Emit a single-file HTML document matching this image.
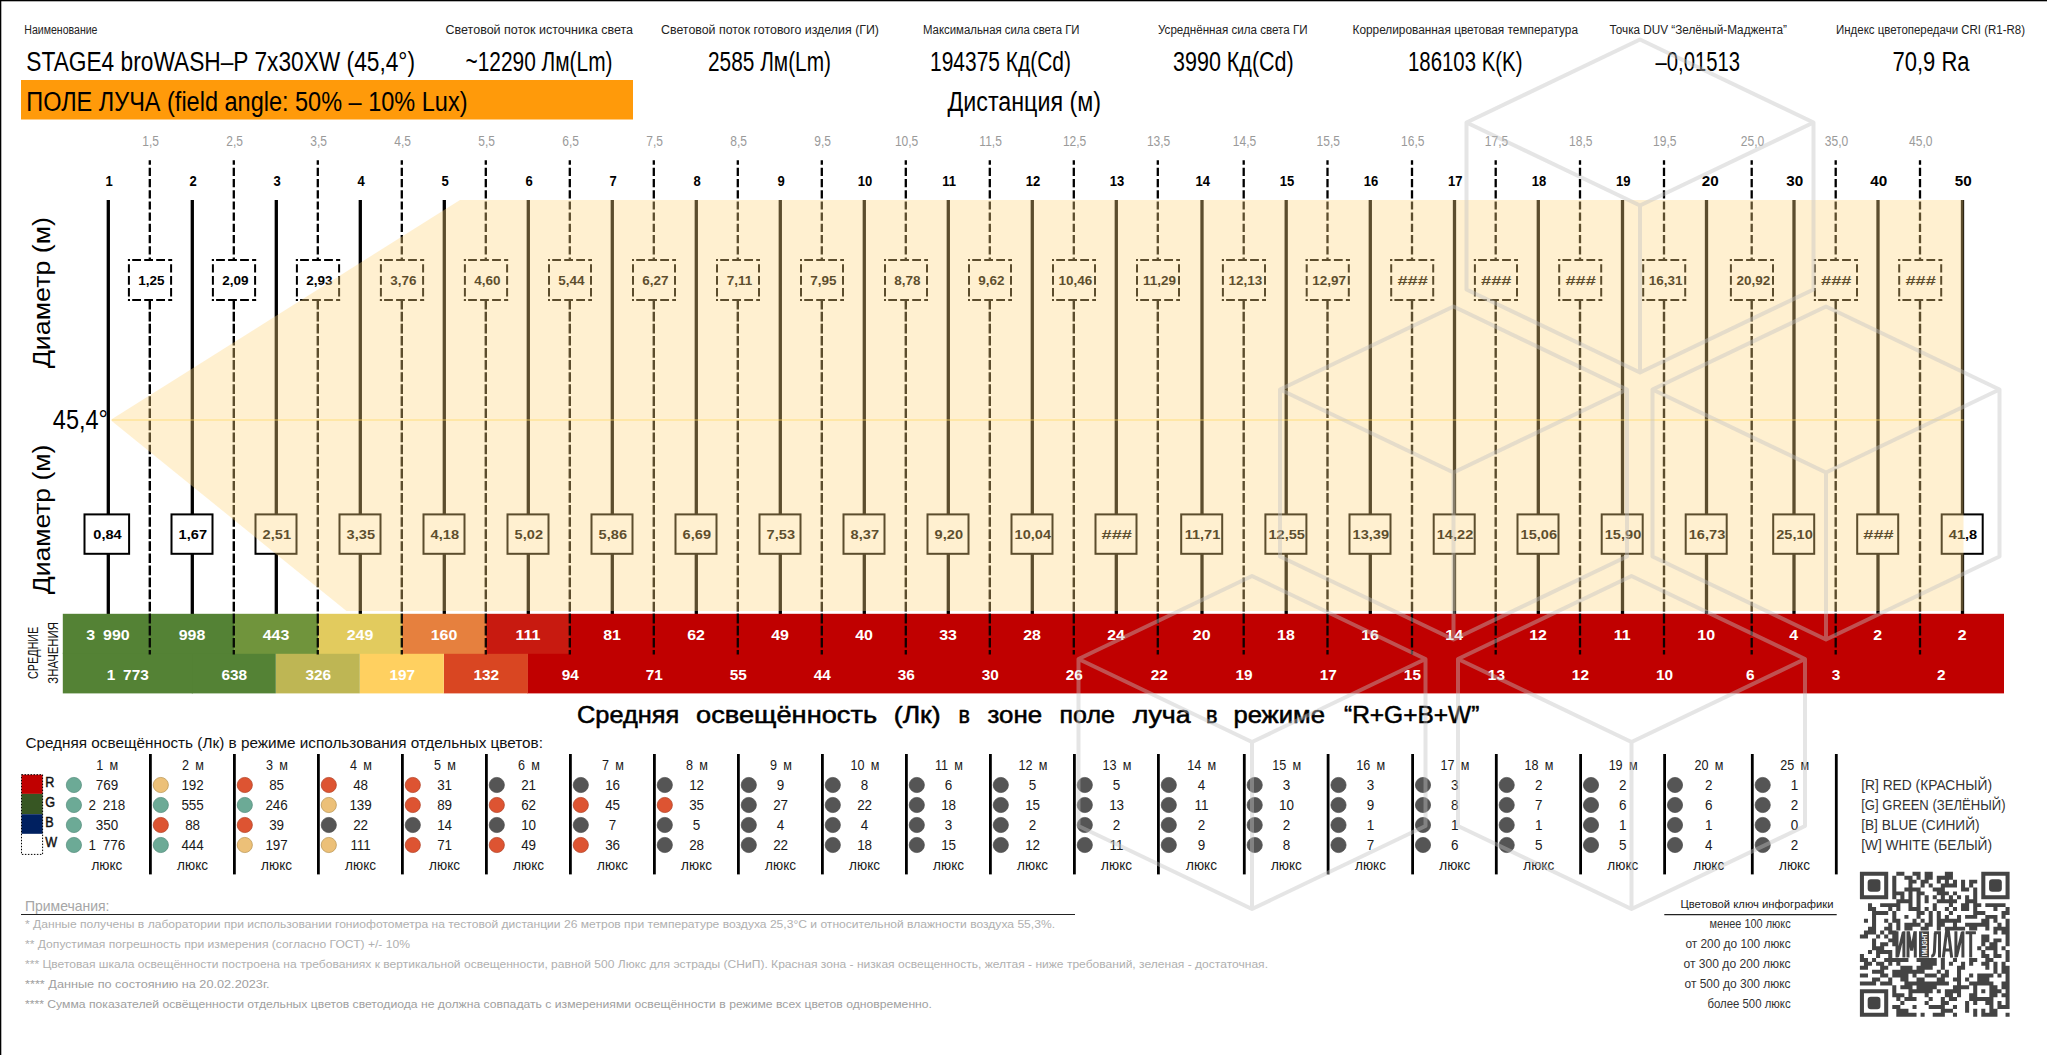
<!DOCTYPE html>
<html lang="ru"><head><meta charset="utf-8"><title>STAGE4 broWASH-P 7x30XW</title>
<style>
html,body{margin:0;padding:0;background:#fff;}
body{width:2047px;height:1055px;overflow:hidden;}
svg{display:block;font-family:"Liberation Sans", sans-serif;}
text{white-space:pre;}
</style></head><body>
<svg width="2047" height="1055" viewBox="0 0 2047 1055">
<rect x="0" y="0" width="2047" height="1055" fill="#fff"/>
<text x="24.3" y="34.2" font-size="12" text-anchor="start" fill="#222" textLength="73.2" lengthAdjust="spacingAndGlyphs" >Наименование</text>
<text x="26.3" y="70.7" font-size="27" text-anchor="start" fill="#000" textLength="388.7" lengthAdjust="spacingAndGlyphs" >STAGE4 broWASH–P 7x30XW (45,4°)</text>
<text x="445.5" y="34.2" font-size="12" text-anchor="start" fill="#222" textLength="187.5" lengthAdjust="spacingAndGlyphs" >Световой поток источника света</text>
<text x="465.5" y="70.7" font-size="27" text-anchor="start" fill="#000" textLength="147.0" lengthAdjust="spacingAndGlyphs" >~12290 Лм(Lm)</text>
<text x="661.0" y="34.2" font-size="12" text-anchor="start" fill="#222" textLength="218.0" lengthAdjust="spacingAndGlyphs" >Световой поток готового изделия (ГИ)</text>
<text x="708.0" y="70.7" font-size="27" text-anchor="start" fill="#000" textLength="123.0" lengthAdjust="spacingAndGlyphs" >2585 Лм(Lm)</text>
<text x="923.0" y="34.2" font-size="12" text-anchor="start" fill="#222" textLength="156.5" lengthAdjust="spacingAndGlyphs" >Максимальная сила света ГИ</text>
<text x="930.0" y="70.7" font-size="27" text-anchor="start" fill="#000" textLength="141.0" lengthAdjust="spacingAndGlyphs" >194375 Кд(Cd)</text>
<text x="1158.0" y="34.2" font-size="12" text-anchor="start" fill="#222" textLength="149.5" lengthAdjust="spacingAndGlyphs" >Усреднённая сила света ГИ</text>
<text x="1173.0" y="70.7" font-size="27" text-anchor="start" fill="#000" textLength="120.7" lengthAdjust="spacingAndGlyphs" >3990 Кд(Cd)</text>
<text x="1352.5" y="34.2" font-size="12" text-anchor="start" fill="#222" textLength="225.5" lengthAdjust="spacingAndGlyphs" >Коррелированная цветовая температура</text>
<text x="1408.0" y="70.7" font-size="27" text-anchor="start" fill="#000" textLength="114.5" lengthAdjust="spacingAndGlyphs" >186103 K(K)</text>
<text x="1609.5" y="34.2" font-size="12" text-anchor="start" fill="#222" textLength="177.5" lengthAdjust="spacingAndGlyphs" >Точка DUV “Зелёный-Маджента”</text>
<text x="1655.5" y="70.7" font-size="27" text-anchor="start" fill="#000" textLength="84.5" lengthAdjust="spacingAndGlyphs" >–0,01513</text>
<text x="1836.0" y="34.2" font-size="12" text-anchor="start" fill="#222" textLength="189.0" lengthAdjust="spacingAndGlyphs" >Индекс цветопередачи CRI (R1-R8)</text>
<text x="1892.5" y="70.7" font-size="27" text-anchor="start" fill="#000" textLength="77.0" lengthAdjust="spacingAndGlyphs" >70,9 Ra</text>
<rect x="21" y="80" width="612" height="39.5" fill="#FF9A0A"/>
<text x="26.3" y="110.8" font-size="27" text-anchor="start" fill="#000" textLength="441.2" lengthAdjust="spacingAndGlyphs" >ПОЛЕ ЛУЧА (field angle: 50% – 10% Lux)</text>
<text x="947.5" y="110.8" font-size="27" text-anchor="start" fill="#000" textLength="153.5" lengthAdjust="spacingAndGlyphs" >Дистанция (м)</text>
<text transform="translate(150.6,145.7) scale(0.86,1)" font-size="14" text-anchor="middle" fill="#9a9a9a" >1,5</text>
<text transform="translate(234.6,145.7) scale(0.86,1)" font-size="14" text-anchor="middle" fill="#9a9a9a" >2,5</text>
<text transform="translate(318.6,145.7) scale(0.86,1)" font-size="14" text-anchor="middle" fill="#9a9a9a" >3,5</text>
<text transform="translate(402.6,145.7) scale(0.86,1)" font-size="14" text-anchor="middle" fill="#9a9a9a" >4,5</text>
<text transform="translate(486.6,145.7) scale(0.86,1)" font-size="14" text-anchor="middle" fill="#9a9a9a" >5,5</text>
<text transform="translate(570.6,145.7) scale(0.86,1)" font-size="14" text-anchor="middle" fill="#9a9a9a" >6,5</text>
<text transform="translate(654.6,145.7) scale(0.86,1)" font-size="14" text-anchor="middle" fill="#9a9a9a" >7,5</text>
<text transform="translate(738.6,145.7) scale(0.86,1)" font-size="14" text-anchor="middle" fill="#9a9a9a" >8,5</text>
<text transform="translate(822.6,145.7) scale(0.86,1)" font-size="14" text-anchor="middle" fill="#9a9a9a" >9,5</text>
<text transform="translate(906.6,145.7) scale(0.86,1)" font-size="14" text-anchor="middle" fill="#9a9a9a" >10,5</text>
<text transform="translate(990.6,145.7) scale(0.86,1)" font-size="14" text-anchor="middle" fill="#9a9a9a" >11,5</text>
<text transform="translate(1074.6,145.7) scale(0.86,1)" font-size="14" text-anchor="middle" fill="#9a9a9a" >12,5</text>
<text transform="translate(1158.6,145.7) scale(0.86,1)" font-size="14" text-anchor="middle" fill="#9a9a9a" >13,5</text>
<text transform="translate(1244.5,145.7) scale(0.86,1)" font-size="14" text-anchor="middle" fill="#9a9a9a" >14,5</text>
<text transform="translate(1328.3,145.7) scale(0.86,1)" font-size="14" text-anchor="middle" fill="#9a9a9a" >15,5</text>
<text transform="translate(1412.8,145.7) scale(0.86,1)" font-size="14" text-anchor="middle" fill="#9a9a9a" >16,5</text>
<text transform="translate(1496.5,145.7) scale(0.86,1)" font-size="14" text-anchor="middle" fill="#9a9a9a" >17,5</text>
<text transform="translate(1580.8,145.7) scale(0.86,1)" font-size="14" text-anchor="middle" fill="#9a9a9a" >18,5</text>
<text transform="translate(1664.8,145.7) scale(0.86,1)" font-size="14" text-anchor="middle" fill="#9a9a9a" >19,5</text>
<text transform="translate(1752.5,145.7) scale(0.86,1)" font-size="14" text-anchor="middle" fill="#9a9a9a" >25,0</text>
<text transform="translate(1836.5,145.7) scale(0.86,1)" font-size="14" text-anchor="middle" fill="#9a9a9a" >35,0</text>
<text transform="translate(1920.8,145.7) scale(0.86,1)" font-size="14" text-anchor="middle" fill="#9a9a9a" >45,0</text>
<text transform="translate(109.1,186.2) scale(0.9,1)" font-size="14.5" text-anchor="middle" fill="#000" font-weight="bold" >1</text>
<text transform="translate(193.1,186.2) scale(0.9,1)" font-size="14.5" text-anchor="middle" fill="#000" font-weight="bold" >2</text>
<text transform="translate(277.1,186.2) scale(0.9,1)" font-size="14.5" text-anchor="middle" fill="#000" font-weight="bold" >3</text>
<text transform="translate(361.1,186.2) scale(0.9,1)" font-size="14.5" text-anchor="middle" fill="#000" font-weight="bold" >4</text>
<text transform="translate(445.1,186.2) scale(0.9,1)" font-size="14.5" text-anchor="middle" fill="#000" font-weight="bold" >5</text>
<text transform="translate(529.1,186.2) scale(0.9,1)" font-size="14.5" text-anchor="middle" fill="#000" font-weight="bold" >6</text>
<text transform="translate(613.1,186.2) scale(0.9,1)" font-size="14.5" text-anchor="middle" fill="#000" font-weight="bold" >7</text>
<text transform="translate(697.1,186.2) scale(0.9,1)" font-size="14.5" text-anchor="middle" fill="#000" font-weight="bold" >8</text>
<text transform="translate(781.1,186.2) scale(0.9,1)" font-size="14.5" text-anchor="middle" fill="#000" font-weight="bold" >9</text>
<text transform="translate(865.1,186.2) scale(0.9,1)" font-size="14.5" text-anchor="middle" fill="#000" font-weight="bold" >10</text>
<text transform="translate(949.1,186.2) scale(0.9,1)" font-size="14.5" text-anchor="middle" fill="#000" font-weight="bold" >11</text>
<text transform="translate(1033.1,186.2) scale(0.9,1)" font-size="14.5" text-anchor="middle" fill="#000" font-weight="bold" >12</text>
<text transform="translate(1117.1,186.2) scale(0.9,1)" font-size="14.5" text-anchor="middle" fill="#000" font-weight="bold" >13</text>
<text transform="translate(1202.8,186.2) scale(0.9,1)" font-size="14.5" text-anchor="middle" fill="#000" font-weight="bold" >14</text>
<text transform="translate(1287.0,186.2) scale(0.9,1)" font-size="14.5" text-anchor="middle" fill="#000" font-weight="bold" >15</text>
<text transform="translate(1371.1,186.2) scale(0.9,1)" font-size="14.5" text-anchor="middle" fill="#000" font-weight="bold" >16</text>
<text transform="translate(1455.3,186.2) scale(0.9,1)" font-size="14.5" text-anchor="middle" fill="#000" font-weight="bold" >17</text>
<text transform="translate(1539.1,186.2) scale(0.9,1)" font-size="14.5" text-anchor="middle" fill="#000" font-weight="bold" >18</text>
<text transform="translate(1623.3,186.2) scale(0.9,1)" font-size="14.5" text-anchor="middle" fill="#000" font-weight="bold" >19</text>
<text transform="translate(1710.3,186.2) scale(1.05,1)" font-size="14.5" text-anchor="middle" fill="#000" font-weight="bold" >20</text>
<text transform="translate(1794.8,186.2) scale(1.05,1)" font-size="14.5" text-anchor="middle" fill="#000" font-weight="bold" >30</text>
<text transform="translate(1878.8,186.2) scale(1.05,1)" font-size="14.5" text-anchor="middle" fill="#000" font-weight="bold" >40</text>
<text transform="translate(1963.3,186.2) scale(1.05,1)" font-size="14.5" text-anchor="middle" fill="#000" font-weight="bold" >50</text>
<line x1="149.8" y1="160.2" x2="149.8" y2="259.5" stroke="#000" stroke-width="2.3" stroke-dasharray="8.2 3" stroke-dashoffset="3.6"/>
<line x1="149.8" y1="300.6" x2="149.8" y2="654.6" stroke="#000" stroke-width="2.4" stroke-dasharray="9.68 2.4" stroke-dashoffset="0.9"/>
<line x1="233.8" y1="160.2" x2="233.8" y2="259.5" stroke="#000" stroke-width="2.3" stroke-dasharray="8.2 3" stroke-dashoffset="3.6"/>
<line x1="233.8" y1="300.6" x2="233.8" y2="654.6" stroke="#000" stroke-width="2.4" stroke-dasharray="9.68 2.4" stroke-dashoffset="0.9"/>
<line x1="317.8" y1="160.2" x2="317.8" y2="259.5" stroke="#000" stroke-width="2.3" stroke-dasharray="8.2 3" stroke-dashoffset="3.6"/>
<line x1="317.8" y1="300.6" x2="317.8" y2="654.6" stroke="#000" stroke-width="2.4" stroke-dasharray="9.68 2.4" stroke-dashoffset="0.9"/>
<line x1="401.8" y1="160.2" x2="401.8" y2="259.5" stroke="#000" stroke-width="2.3" stroke-dasharray="8.2 3" stroke-dashoffset="3.6"/>
<line x1="401.8" y1="300.6" x2="401.8" y2="654.6" stroke="#000" stroke-width="2.4" stroke-dasharray="9.68 2.4" stroke-dashoffset="0.9"/>
<line x1="485.8" y1="160.2" x2="485.8" y2="259.5" stroke="#000" stroke-width="2.3" stroke-dasharray="8.2 3" stroke-dashoffset="3.6"/>
<line x1="485.8" y1="300.6" x2="485.8" y2="654.6" stroke="#000" stroke-width="2.4" stroke-dasharray="9.68 2.4" stroke-dashoffset="0.9"/>
<line x1="569.8" y1="160.2" x2="569.8" y2="259.5" stroke="#000" stroke-width="2.3" stroke-dasharray="8.2 3" stroke-dashoffset="3.6"/>
<line x1="569.8" y1="300.6" x2="569.8" y2="654.6" stroke="#000" stroke-width="2.4" stroke-dasharray="9.68 2.4" stroke-dashoffset="0.9"/>
<line x1="653.8" y1="160.2" x2="653.8" y2="259.5" stroke="#000" stroke-width="2.3" stroke-dasharray="8.2 3" stroke-dashoffset="3.6"/>
<line x1="653.8" y1="300.6" x2="653.8" y2="654.6" stroke="#000" stroke-width="2.4" stroke-dasharray="9.68 2.4" stroke-dashoffset="0.9"/>
<line x1="737.8" y1="160.2" x2="737.8" y2="259.5" stroke="#000" stroke-width="2.3" stroke-dasharray="8.2 3" stroke-dashoffset="3.6"/>
<line x1="737.8" y1="300.6" x2="737.8" y2="654.6" stroke="#000" stroke-width="2.4" stroke-dasharray="9.68 2.4" stroke-dashoffset="0.9"/>
<line x1="821.8" y1="160.2" x2="821.8" y2="259.5" stroke="#000" stroke-width="2.3" stroke-dasharray="8.2 3" stroke-dashoffset="3.6"/>
<line x1="821.8" y1="300.6" x2="821.8" y2="654.6" stroke="#000" stroke-width="2.4" stroke-dasharray="9.68 2.4" stroke-dashoffset="0.9"/>
<line x1="905.8" y1="160.2" x2="905.8" y2="259.5" stroke="#000" stroke-width="2.3" stroke-dasharray="8.2 3" stroke-dashoffset="3.6"/>
<line x1="905.8" y1="300.6" x2="905.8" y2="654.6" stroke="#000" stroke-width="2.4" stroke-dasharray="9.68 2.4" stroke-dashoffset="0.9"/>
<line x1="989.8" y1="160.2" x2="989.8" y2="259.5" stroke="#000" stroke-width="2.3" stroke-dasharray="8.2 3" stroke-dashoffset="3.6"/>
<line x1="989.8" y1="300.6" x2="989.8" y2="654.6" stroke="#000" stroke-width="2.4" stroke-dasharray="9.68 2.4" stroke-dashoffset="0.9"/>
<line x1="1073.8" y1="160.2" x2="1073.8" y2="259.5" stroke="#000" stroke-width="2.3" stroke-dasharray="8.2 3" stroke-dashoffset="3.6"/>
<line x1="1073.8" y1="300.6" x2="1073.8" y2="654.6" stroke="#000" stroke-width="2.4" stroke-dasharray="9.68 2.4" stroke-dashoffset="0.9"/>
<line x1="1157.8" y1="160.2" x2="1157.8" y2="259.5" stroke="#000" stroke-width="2.3" stroke-dasharray="8.2 3" stroke-dashoffset="3.6"/>
<line x1="1157.8" y1="300.6" x2="1157.8" y2="654.6" stroke="#000" stroke-width="2.4" stroke-dasharray="9.68 2.4" stroke-dashoffset="0.9"/>
<line x1="1243.7" y1="160.2" x2="1243.7" y2="259.5" stroke="#000" stroke-width="2.3" stroke-dasharray="8.2 3" stroke-dashoffset="3.6"/>
<line x1="1243.7" y1="300.6" x2="1243.7" y2="654.6" stroke="#000" stroke-width="2.4" stroke-dasharray="9.68 2.4" stroke-dashoffset="0.9"/>
<line x1="1327.5" y1="160.2" x2="1327.5" y2="259.5" stroke="#000" stroke-width="2.3" stroke-dasharray="8.2 3" stroke-dashoffset="3.6"/>
<line x1="1327.5" y1="300.6" x2="1327.5" y2="654.6" stroke="#000" stroke-width="2.4" stroke-dasharray="9.68 2.4" stroke-dashoffset="0.9"/>
<line x1="1412.0" y1="160.2" x2="1412.0" y2="259.5" stroke="#000" stroke-width="2.3" stroke-dasharray="8.2 3" stroke-dashoffset="3.6"/>
<line x1="1412.0" y1="300.6" x2="1412.0" y2="654.6" stroke="#000" stroke-width="2.4" stroke-dasharray="9.68 2.4" stroke-dashoffset="0.9"/>
<line x1="1495.7" y1="160.2" x2="1495.7" y2="259.5" stroke="#000" stroke-width="2.3" stroke-dasharray="8.2 3" stroke-dashoffset="3.6"/>
<line x1="1495.7" y1="300.6" x2="1495.7" y2="654.6" stroke="#000" stroke-width="2.4" stroke-dasharray="9.68 2.4" stroke-dashoffset="0.9"/>
<line x1="1580.0" y1="160.2" x2="1580.0" y2="259.5" stroke="#000" stroke-width="2.3" stroke-dasharray="8.2 3" stroke-dashoffset="3.6"/>
<line x1="1580.0" y1="300.6" x2="1580.0" y2="654.6" stroke="#000" stroke-width="2.4" stroke-dasharray="9.68 2.4" stroke-dashoffset="0.9"/>
<line x1="1664.0" y1="160.2" x2="1664.0" y2="259.5" stroke="#000" stroke-width="2.3" stroke-dasharray="8.2 3" stroke-dashoffset="3.6"/>
<line x1="1664.0" y1="300.6" x2="1664.0" y2="654.6" stroke="#000" stroke-width="2.4" stroke-dasharray="9.68 2.4" stroke-dashoffset="0.9"/>
<line x1="1751.7" y1="160.2" x2="1751.7" y2="259.5" stroke="#000" stroke-width="2.3" stroke-dasharray="8.2 3" stroke-dashoffset="3.6"/>
<line x1="1751.7" y1="300.6" x2="1751.7" y2="654.6" stroke="#000" stroke-width="2.4" stroke-dasharray="9.68 2.4" stroke-dashoffset="0.9"/>
<line x1="1835.7" y1="160.2" x2="1835.7" y2="259.5" stroke="#000" stroke-width="2.3" stroke-dasharray="8.2 3" stroke-dashoffset="3.6"/>
<line x1="1835.7" y1="300.6" x2="1835.7" y2="654.6" stroke="#000" stroke-width="2.4" stroke-dasharray="9.68 2.4" stroke-dashoffset="0.9"/>
<line x1="1920.0" y1="160.2" x2="1920.0" y2="259.5" stroke="#000" stroke-width="2.3" stroke-dasharray="8.2 3" stroke-dashoffset="3.6"/>
<line x1="1920.0" y1="300.6" x2="1920.0" y2="654.6" stroke="#000" stroke-width="2.4" stroke-dasharray="9.68 2.4" stroke-dashoffset="0.9"/>
<line x1="108.3" y1="200" x2="108.3" y2="614" stroke="#000" stroke-width="3.3"/>
<line x1="192.3" y1="200" x2="192.3" y2="614" stroke="#000" stroke-width="3.3"/>
<line x1="276.3" y1="200" x2="276.3" y2="614" stroke="#000" stroke-width="3.3"/>
<line x1="360.3" y1="200" x2="360.3" y2="614" stroke="#000" stroke-width="3.3"/>
<line x1="444.3" y1="200" x2="444.3" y2="614" stroke="#000" stroke-width="3.3"/>
<line x1="528.3" y1="200" x2="528.3" y2="614" stroke="#000" stroke-width="3.3"/>
<line x1="612.3" y1="200" x2="612.3" y2="614" stroke="#000" stroke-width="3.3"/>
<line x1="696.3" y1="200" x2="696.3" y2="614" stroke="#000" stroke-width="3.3"/>
<line x1="780.3" y1="200" x2="780.3" y2="614" stroke="#000" stroke-width="3.3"/>
<line x1="864.3" y1="200" x2="864.3" y2="614" stroke="#000" stroke-width="3.3"/>
<line x1="948.3" y1="200" x2="948.3" y2="614" stroke="#000" stroke-width="3.3"/>
<line x1="1032.3" y1="200" x2="1032.3" y2="614" stroke="#000" stroke-width="3.3"/>
<line x1="1116.3" y1="200" x2="1116.3" y2="614" stroke="#000" stroke-width="3.3"/>
<line x1="1202.0" y1="200" x2="1202.0" y2="614" stroke="#000" stroke-width="3.3"/>
<line x1="1286.2" y1="200" x2="1286.2" y2="614" stroke="#000" stroke-width="3.3"/>
<line x1="1370.3" y1="200" x2="1370.3" y2="614" stroke="#000" stroke-width="3.3"/>
<line x1="1454.5" y1="200" x2="1454.5" y2="614" stroke="#000" stroke-width="3.3"/>
<line x1="1538.3" y1="200" x2="1538.3" y2="614" stroke="#000" stroke-width="3.3"/>
<line x1="1622.5" y1="200" x2="1622.5" y2="614" stroke="#000" stroke-width="3.3"/>
<line x1="1706.5" y1="200" x2="1706.5" y2="614" stroke="#000" stroke-width="3.3"/>
<line x1="1794.0" y1="200" x2="1794.0" y2="614" stroke="#000" stroke-width="3.3"/>
<line x1="1878.0" y1="200" x2="1878.0" y2="614" stroke="#000" stroke-width="3.3"/>
<line x1="1962.5" y1="200" x2="1962.5" y2="614" stroke="#000" stroke-width="3.3"/>
<rect x="128.9" y="259.9" width="42.1" height="40.0" fill="#fff"/>
<path d="M128.0,259.9H172.1M128.0,299.9H172.1" stroke="#000" stroke-width="2" stroke-dasharray="2 2.2 8.8 3.2 8.8 3.2 8.8 3.2 4.1 0" fill="none"/>
<path d="M128.9,258.9V300.9M171.1,258.9V300.9" stroke="#000" stroke-width="2" stroke-dasharray="2 3.3 8.3 3.6 8.6 3.3 8.6 3 1.2 0" fill="none"/>
<text transform="translate(151.4,284.8) scale(1.0,1)" font-size="13.5" text-anchor="middle" fill="#000" font-weight="bold" >1,25</text>
<rect x="212.9" y="259.9" width="42.1" height="40.0" fill="#fff"/>
<path d="M211.9,259.9H256.1M211.9,299.9H256.1" stroke="#000" stroke-width="2" stroke-dasharray="2 2.2 8.8 3.2 8.8 3.2 8.8 3.2 4.1 0" fill="none"/>
<path d="M212.9,258.9V300.9M255.1,258.9V300.9" stroke="#000" stroke-width="2" stroke-dasharray="2 3.3 8.3 3.6 8.6 3.3 8.6 3 1.2 0" fill="none"/>
<text transform="translate(235.4,284.8) scale(1.0,1)" font-size="13.5" text-anchor="middle" fill="#000" font-weight="bold" >2,09</text>
<rect x="296.9" y="259.9" width="42.1" height="40.0" fill="#fff"/>
<path d="M295.9,259.9H340.1M295.9,299.9H340.1" stroke="#000" stroke-width="2" stroke-dasharray="2 2.2 8.8 3.2 8.8 3.2 8.8 3.2 4.1 0" fill="none"/>
<path d="M296.9,258.9V300.9M339.1,258.9V300.9" stroke="#000" stroke-width="2" stroke-dasharray="2 3.3 8.3 3.6 8.6 3.3 8.6 3 1.2 0" fill="none"/>
<text transform="translate(319.4,284.8) scale(1.0,1)" font-size="13.5" text-anchor="middle" fill="#000" font-weight="bold" >2,93</text>
<rect x="380.9" y="259.9" width="42.1" height="40.0" fill="#fff"/>
<path d="M379.9,259.9H424.1M379.9,299.9H424.1" stroke="#000" stroke-width="2" stroke-dasharray="2 2.2 8.8 3.2 8.8 3.2 8.8 3.2 4.1 0" fill="none"/>
<path d="M380.9,258.9V300.9M423.1,258.9V300.9" stroke="#000" stroke-width="2" stroke-dasharray="2 3.3 8.3 3.6 8.6 3.3 8.6 3 1.2 0" fill="none"/>
<text transform="translate(403.4,284.8) scale(1.0,1)" font-size="13.5" text-anchor="middle" fill="#000" font-weight="bold" >3,76</text>
<rect x="464.9" y="259.9" width="42.1" height="40.0" fill="#fff"/>
<path d="M463.9,259.9H508.1M463.9,299.9H508.1" stroke="#000" stroke-width="2" stroke-dasharray="2 2.2 8.8 3.2 8.8 3.2 8.8 3.2 4.1 0" fill="none"/>
<path d="M464.9,258.9V300.9M507.1,258.9V300.9" stroke="#000" stroke-width="2" stroke-dasharray="2 3.3 8.3 3.6 8.6 3.3 8.6 3 1.2 0" fill="none"/>
<text transform="translate(487.4,284.8) scale(1.0,1)" font-size="13.5" text-anchor="middle" fill="#000" font-weight="bold" >4,60</text>
<rect x="549.0" y="259.9" width="42.1" height="40.0" fill="#fff"/>
<path d="M548.0,259.9H592.0M548.0,299.9H592.0" stroke="#000" stroke-width="2" stroke-dasharray="2 2.2 8.8 3.2 8.8 3.2 8.8 3.2 4.1 0" fill="none"/>
<path d="M549.0,258.9V300.9M591.0,258.9V300.9" stroke="#000" stroke-width="2" stroke-dasharray="2 3.3 8.3 3.6 8.6 3.3 8.6 3 1.2 0" fill="none"/>
<text transform="translate(571.4,284.8) scale(1.0,1)" font-size="13.5" text-anchor="middle" fill="#000" font-weight="bold" >5,44</text>
<rect x="633.0" y="259.9" width="42.1" height="40.0" fill="#fff"/>
<path d="M632.0,259.9H676.0M632.0,299.9H676.0" stroke="#000" stroke-width="2" stroke-dasharray="2 2.2 8.8 3.2 8.8 3.2 8.8 3.2 4.1 0" fill="none"/>
<path d="M633.0,258.9V300.9M675.0,258.9V300.9" stroke="#000" stroke-width="2" stroke-dasharray="2 3.3 8.3 3.6 8.6 3.3 8.6 3 1.2 0" fill="none"/>
<text transform="translate(655.4,284.8) scale(1.0,1)" font-size="13.5" text-anchor="middle" fill="#000" font-weight="bold" >6,27</text>
<rect x="717.0" y="259.9" width="42.1" height="40.0" fill="#fff"/>
<path d="M716.0,259.9H760.0M716.0,299.9H760.0" stroke="#000" stroke-width="2" stroke-dasharray="2 2.2 8.8 3.2 8.8 3.2 8.8 3.2 4.1 0" fill="none"/>
<path d="M717.0,258.9V300.9M759.0,258.9V300.9" stroke="#000" stroke-width="2" stroke-dasharray="2 3.3 8.3 3.6 8.6 3.3 8.6 3 1.2 0" fill="none"/>
<text transform="translate(739.4,284.8) scale(1.0,1)" font-size="13.5" text-anchor="middle" fill="#000" font-weight="bold" >7,11</text>
<rect x="801.0" y="259.9" width="42.1" height="40.0" fill="#fff"/>
<path d="M800.0,259.9H844.0M800.0,299.9H844.0" stroke="#000" stroke-width="2" stroke-dasharray="2 2.2 8.8 3.2 8.8 3.2 8.8 3.2 4.1 0" fill="none"/>
<path d="M801.0,258.9V300.9M843.0,258.9V300.9" stroke="#000" stroke-width="2" stroke-dasharray="2 3.3 8.3 3.6 8.6 3.3 8.6 3 1.2 0" fill="none"/>
<text transform="translate(823.4,284.8) scale(1.0,1)" font-size="13.5" text-anchor="middle" fill="#000" font-weight="bold" >7,95</text>
<rect x="885.0" y="259.9" width="42.1" height="40.0" fill="#fff"/>
<path d="M884.0,259.9H928.0M884.0,299.9H928.0" stroke="#000" stroke-width="2" stroke-dasharray="2 2.2 8.8 3.2 8.8 3.2 8.8 3.2 4.1 0" fill="none"/>
<path d="M885.0,258.9V300.9M927.0,258.9V300.9" stroke="#000" stroke-width="2" stroke-dasharray="2 3.3 8.3 3.6 8.6 3.3 8.6 3 1.2 0" fill="none"/>
<text transform="translate(907.4,284.8) scale(1.0,1)" font-size="13.5" text-anchor="middle" fill="#000" font-weight="bold" >8,78</text>
<rect x="969.0" y="259.9" width="42.1" height="40.0" fill="#fff"/>
<path d="M968.0,259.9H1012.0M968.0,299.9H1012.0" stroke="#000" stroke-width="2" stroke-dasharray="2 2.2 8.8 3.2 8.8 3.2 8.8 3.2 4.1 0" fill="none"/>
<path d="M969.0,258.9V300.9M1011.0,258.9V300.9" stroke="#000" stroke-width="2" stroke-dasharray="2 3.3 8.3 3.6 8.6 3.3 8.6 3 1.2 0" fill="none"/>
<text transform="translate(991.4,284.8) scale(1.0,1)" font-size="13.5" text-anchor="middle" fill="#000" font-weight="bold" >9,62</text>
<rect x="1053.0" y="259.9" width="42.1" height="40.0" fill="#fff"/>
<path d="M1052.0,259.9H1096.0M1052.0,299.9H1096.0" stroke="#000" stroke-width="2" stroke-dasharray="2 2.2 8.8 3.2 8.8 3.2 8.8 3.2 4.1 0" fill="none"/>
<path d="M1053.0,258.9V300.9M1095.0,258.9V300.9" stroke="#000" stroke-width="2" stroke-dasharray="2 3.3 8.3 3.6 8.6 3.3 8.6 3 1.2 0" fill="none"/>
<text transform="translate(1075.4,284.8) scale(1.0,1)" font-size="13.5" text-anchor="middle" fill="#000" font-weight="bold" >10,46</text>
<rect x="1137.0" y="259.9" width="42.1" height="40.0" fill="#fff"/>
<path d="M1136.0,259.9H1180.0M1136.0,299.9H1180.0" stroke="#000" stroke-width="2" stroke-dasharray="2 2.2 8.8 3.2 8.8 3.2 8.8 3.2 4.1 0" fill="none"/>
<path d="M1137.0,258.9V300.9M1179.0,258.9V300.9" stroke="#000" stroke-width="2" stroke-dasharray="2 3.3 8.3 3.6 8.6 3.3 8.6 3 1.2 0" fill="none"/>
<text transform="translate(1159.4,284.8) scale(1.0,1)" font-size="13.5" text-anchor="middle" fill="#000" font-weight="bold" >11,29</text>
<rect x="1222.9" y="259.9" width="42.1" height="40.0" fill="#fff"/>
<path d="M1221.9,259.9H1266.0M1221.9,299.9H1266.0" stroke="#000" stroke-width="2" stroke-dasharray="2 2.2 8.8 3.2 8.8 3.2 8.8 3.2 4.1 0" fill="none"/>
<path d="M1222.9,258.9V300.9M1265.0,258.9V300.9" stroke="#000" stroke-width="2" stroke-dasharray="2 3.3 8.3 3.6 8.6 3.3 8.6 3 1.2 0" fill="none"/>
<text transform="translate(1245.3,284.8) scale(1.0,1)" font-size="13.5" text-anchor="middle" fill="#000" font-weight="bold" >12,13</text>
<rect x="1306.7" y="259.9" width="42.1" height="40.0" fill="#fff"/>
<path d="M1305.7,259.9H1349.8M1305.7,299.9H1349.8" stroke="#000" stroke-width="2" stroke-dasharray="2 2.2 8.8 3.2 8.8 3.2 8.8 3.2 4.1 0" fill="none"/>
<path d="M1306.7,258.9V300.9M1348.8,258.9V300.9" stroke="#000" stroke-width="2" stroke-dasharray="2 3.3 8.3 3.6 8.6 3.3 8.6 3 1.2 0" fill="none"/>
<text transform="translate(1329.1,284.8) scale(1.0,1)" font-size="13.5" text-anchor="middle" fill="#000" font-weight="bold" >12,97</text>
<rect x="1391.2" y="259.9" width="42.1" height="40.0" fill="#fff"/>
<path d="M1390.2,259.9H1434.2M1390.2,299.9H1434.2" stroke="#000" stroke-width="2" stroke-dasharray="2 2.2 8.8 3.2 8.8 3.2 8.8 3.2 4.1 0" fill="none"/>
<path d="M1391.2,258.9V300.9M1433.2,258.9V300.9" stroke="#000" stroke-width="2" stroke-dasharray="2 3.3 8.3 3.6 8.6 3.3 8.6 3 1.2 0" fill="none"/>
<text transform="translate(1412.6,284.8) scale(1.35,1)" font-size="13.5" text-anchor="middle" fill="#000" font-weight="bold" >###</text>
<rect x="1474.9" y="259.9" width="42.1" height="40.0" fill="#fff"/>
<path d="M1473.9,259.9H1518.0M1473.9,299.9H1518.0" stroke="#000" stroke-width="2" stroke-dasharray="2 2.2 8.8 3.2 8.8 3.2 8.8 3.2 4.1 0" fill="none"/>
<path d="M1474.9,258.9V300.9M1517.0,258.9V300.9" stroke="#000" stroke-width="2" stroke-dasharray="2 3.3 8.3 3.6 8.6 3.3 8.6 3 1.2 0" fill="none"/>
<text transform="translate(1496.3,284.8) scale(1.35,1)" font-size="13.5" text-anchor="middle" fill="#000" font-weight="bold" >###</text>
<rect x="1559.2" y="259.9" width="42.1" height="40.0" fill="#fff"/>
<path d="M1558.2,259.9H1602.2M1558.2,299.9H1602.2" stroke="#000" stroke-width="2" stroke-dasharray="2 2.2 8.8 3.2 8.8 3.2 8.8 3.2 4.1 0" fill="none"/>
<path d="M1559.2,258.9V300.9M1601.2,258.9V300.9" stroke="#000" stroke-width="2" stroke-dasharray="2 3.3 8.3 3.6 8.6 3.3 8.6 3 1.2 0" fill="none"/>
<text transform="translate(1580.6,284.8) scale(1.35,1)" font-size="13.5" text-anchor="middle" fill="#000" font-weight="bold" >###</text>
<rect x="1643.2" y="259.9" width="42.1" height="40.0" fill="#fff"/>
<path d="M1642.2,259.9H1686.2M1642.2,299.9H1686.2" stroke="#000" stroke-width="2" stroke-dasharray="2 2.2 8.8 3.2 8.8 3.2 8.8 3.2 4.1 0" fill="none"/>
<path d="M1643.2,258.9V300.9M1685.2,258.9V300.9" stroke="#000" stroke-width="2" stroke-dasharray="2 3.3 8.3 3.6 8.6 3.3 8.6 3 1.2 0" fill="none"/>
<text transform="translate(1665.6,284.8) scale(1.0,1)" font-size="13.5" text-anchor="middle" fill="#000" font-weight="bold" >16,31</text>
<rect x="1730.9" y="259.9" width="42.1" height="40.0" fill="#fff"/>
<path d="M1729.9,259.9H1774.0M1729.9,299.9H1774.0" stroke="#000" stroke-width="2" stroke-dasharray="2 2.2 8.8 3.2 8.8 3.2 8.8 3.2 4.1 0" fill="none"/>
<path d="M1730.9,258.9V300.9M1773.0,258.9V300.9" stroke="#000" stroke-width="2" stroke-dasharray="2 3.3 8.3 3.6 8.6 3.3 8.6 3 1.2 0" fill="none"/>
<text transform="translate(1753.3,284.8) scale(1.0,1)" font-size="13.5" text-anchor="middle" fill="#000" font-weight="bold" >20,92</text>
<rect x="1814.9" y="259.9" width="42.1" height="40.0" fill="#fff"/>
<path d="M1813.9,259.9H1858.0M1813.9,299.9H1858.0" stroke="#000" stroke-width="2" stroke-dasharray="2 2.2 8.8 3.2 8.8 3.2 8.8 3.2 4.1 0" fill="none"/>
<path d="M1814.9,258.9V300.9M1857.0,258.9V300.9" stroke="#000" stroke-width="2" stroke-dasharray="2 3.3 8.3 3.6 8.6 3.3 8.6 3 1.2 0" fill="none"/>
<text transform="translate(1836.3,284.8) scale(1.35,1)" font-size="13.5" text-anchor="middle" fill="#000" font-weight="bold" >###</text>
<rect x="1899.2" y="259.9" width="42.1" height="40.0" fill="#fff"/>
<path d="M1898.2,259.9H1942.2M1898.2,299.9H1942.2" stroke="#000" stroke-width="2" stroke-dasharray="2 2.2 8.8 3.2 8.8 3.2 8.8 3.2 4.1 0" fill="none"/>
<path d="M1899.2,258.9V300.9M1941.2,258.9V300.9" stroke="#000" stroke-width="2" stroke-dasharray="2 3.3 8.3 3.6 8.6 3.3 8.6 3 1.2 0" fill="none"/>
<text transform="translate(1920.6,284.8) scale(1.35,1)" font-size="13.5" text-anchor="middle" fill="#000" font-weight="bold" >###</text>
<rect x="84.5" y="514.4" width="44.6" height="39.4" fill="#fff" stroke="#000" stroke-width="2"/>
<text transform="translate(107.5,539.0) scale(1.08,1)" font-size="13.5" text-anchor="middle" fill="#000" font-weight="bold" >0,84</text>
<rect x="171.5" y="514.4" width="41.0" height="39.4" fill="#fff" stroke="#000" stroke-width="2"/>
<text transform="translate(192.8,539.0) scale(1.08,1)" font-size="13.5" text-anchor="middle" fill="#000" font-weight="bold" >1,67</text>
<rect x="255.5" y="514.4" width="41.0" height="39.4" fill="#fff" stroke="#000" stroke-width="2"/>
<text transform="translate(276.8,539.0) scale(1.08,1)" font-size="13.5" text-anchor="middle" fill="#000" font-weight="bold" >2,51</text>
<rect x="339.5" y="514.4" width="41.0" height="39.4" fill="#fff" stroke="#000" stroke-width="2"/>
<text transform="translate(360.8,539.0) scale(1.08,1)" font-size="13.5" text-anchor="middle" fill="#000" font-weight="bold" >3,35</text>
<rect x="423.5" y="514.4" width="41.0" height="39.4" fill="#fff" stroke="#000" stroke-width="2"/>
<text transform="translate(444.8,539.0) scale(1.08,1)" font-size="13.5" text-anchor="middle" fill="#000" font-weight="bold" >4,18</text>
<rect x="507.5" y="514.4" width="41.0" height="39.4" fill="#fff" stroke="#000" stroke-width="2"/>
<text transform="translate(528.8,539.0) scale(1.08,1)" font-size="13.5" text-anchor="middle" fill="#000" font-weight="bold" >5,02</text>
<rect x="591.5" y="514.4" width="41.0" height="39.4" fill="#fff" stroke="#000" stroke-width="2"/>
<text transform="translate(612.8,539.0) scale(1.08,1)" font-size="13.5" text-anchor="middle" fill="#000" font-weight="bold" >5,86</text>
<rect x="675.5" y="514.4" width="41.0" height="39.4" fill="#fff" stroke="#000" stroke-width="2"/>
<text transform="translate(696.8,539.0) scale(1.08,1)" font-size="13.5" text-anchor="middle" fill="#000" font-weight="bold" >6,69</text>
<rect x="759.5" y="514.4" width="41.0" height="39.4" fill="#fff" stroke="#000" stroke-width="2"/>
<text transform="translate(780.8,539.0) scale(1.08,1)" font-size="13.5" text-anchor="middle" fill="#000" font-weight="bold" >7,53</text>
<rect x="843.5" y="514.4" width="41.0" height="39.4" fill="#fff" stroke="#000" stroke-width="2"/>
<text transform="translate(864.8,539.0) scale(1.08,1)" font-size="13.5" text-anchor="middle" fill="#000" font-weight="bold" >8,37</text>
<rect x="927.5" y="514.4" width="41.0" height="39.4" fill="#fff" stroke="#000" stroke-width="2"/>
<text transform="translate(948.8,539.0) scale(1.08,1)" font-size="13.5" text-anchor="middle" fill="#000" font-weight="bold" >9,20</text>
<rect x="1011.5" y="514.4" width="41.0" height="39.4" fill="#fff" stroke="#000" stroke-width="2"/>
<text transform="translate(1032.8,539.0) scale(1.08,1)" font-size="13.5" text-anchor="middle" fill="#000" font-weight="bold" >10,04</text>
<rect x="1095.5" y="514.4" width="41.0" height="39.4" fill="#fff" stroke="#000" stroke-width="2"/>
<text transform="translate(1116.8,539.0) scale(1.35,1)" font-size="13.5" text-anchor="middle" fill="#000" font-weight="bold" >###</text>
<rect x="1181.2" y="514.4" width="41.0" height="39.4" fill="#fff" stroke="#000" stroke-width="2"/>
<text transform="translate(1202.5,539.0) scale(1.08,1)" font-size="13.5" text-anchor="middle" fill="#000" font-weight="bold" >11,71</text>
<rect x="1265.4" y="514.4" width="41.0" height="39.4" fill="#fff" stroke="#000" stroke-width="2"/>
<text transform="translate(1286.7,539.0) scale(1.08,1)" font-size="13.5" text-anchor="middle" fill="#000" font-weight="bold" >12,55</text>
<rect x="1349.5" y="514.4" width="41.0" height="39.4" fill="#fff" stroke="#000" stroke-width="2"/>
<text transform="translate(1370.8,539.0) scale(1.08,1)" font-size="13.5" text-anchor="middle" fill="#000" font-weight="bold" >13,39</text>
<rect x="1433.7" y="514.4" width="41.0" height="39.4" fill="#fff" stroke="#000" stroke-width="2"/>
<text transform="translate(1455.0,539.0) scale(1.08,1)" font-size="13.5" text-anchor="middle" fill="#000" font-weight="bold" >14,22</text>
<rect x="1517.5" y="514.4" width="41.0" height="39.4" fill="#fff" stroke="#000" stroke-width="2"/>
<text transform="translate(1538.8,539.0) scale(1.08,1)" font-size="13.5" text-anchor="middle" fill="#000" font-weight="bold" >15,06</text>
<rect x="1601.7" y="514.4" width="41.0" height="39.4" fill="#fff" stroke="#000" stroke-width="2"/>
<text transform="translate(1623.0,539.0) scale(1.08,1)" font-size="13.5" text-anchor="middle" fill="#000" font-weight="bold" >15,90</text>
<rect x="1685.7" y="514.4" width="41.0" height="39.4" fill="#fff" stroke="#000" stroke-width="2"/>
<text transform="translate(1707.0,539.0) scale(1.08,1)" font-size="13.5" text-anchor="middle" fill="#000" font-weight="bold" >16,73</text>
<rect x="1773.2" y="514.4" width="41.0" height="39.4" fill="#fff" stroke="#000" stroke-width="2"/>
<text transform="translate(1794.5,539.0) scale(1.08,1)" font-size="13.5" text-anchor="middle" fill="#000" font-weight="bold" >25,10</text>
<rect x="1857.2" y="514.4" width="41.0" height="39.4" fill="#fff" stroke="#000" stroke-width="2"/>
<text transform="translate(1878.5,539.0) scale(1.35,1)" font-size="13.5" text-anchor="middle" fill="#000" font-weight="bold" >###</text>
<rect x="1941.7" y="514.4" width="41.0" height="39.4" fill="#fff" stroke="#000" stroke-width="2"/>
<text transform="translate(1963.0,539.0) scale(1.08,1)" font-size="13.5" text-anchor="middle" fill="#000" font-weight="bold" >41,8</text>
<polygon points="110.5,420 460,200 1963.5,200 1963.5,611 346.5,611" fill="rgb(255,213,125)" fill-opacity="0.36"/>
<line x1="112" y1="420" x2="1963.5" y2="420" stroke="rgb(255,215,95)" stroke-opacity="0.5" stroke-width="1.6"/>
<text x="0.0" y="0.0" font-size="23" text-anchor="start" fill="#000" textLength="151.3" lengthAdjust="spacingAndGlyphs" transform="translate(50,368.3) rotate(-90)">Диаметр (м)</text>
<text x="0.0" y="0.0" font-size="23" text-anchor="start" fill="#000" textLength="149.4" lengthAdjust="spacingAndGlyphs" transform="translate(50,594.2) rotate(-90)">Диаметр (м)</text>
<text x="52.8" y="428.5" font-size="27" text-anchor="start" fill="#000" textLength="55.2" lengthAdjust="spacingAndGlyphs" >45,4°</text>
<rect x="527.3" y="652.8" width="1476.7" height="40.6" fill="#C00000"/>
<rect x="443.8" y="652.8" width="84.0" height="40.6" fill="#D94622"/>
<rect x="359.8" y="652.8" width="84.0" height="40.6" fill="#FFD060"/>
<rect x="275.8" y="652.8" width="84.0" height="40.6" fill="#BEB654"/>
<rect x="191.8" y="652.8" width="84.0" height="40.6" fill="#548235"/>
<rect x="62.8" y="652.8" width="130.0" height="40.6" fill="#548235"/>
<rect x="569.6" y="613.8" width="1434.4" height="40.0" fill="#C00000"/>
<rect x="486.1" y="613.8" width="84.0" height="40.0" fill="#C81A10"/>
<rect x="402.1" y="613.8" width="84.0" height="40.0" fill="#E6803E"/>
<rect x="318.1" y="613.8" width="84.0" height="40.0" fill="#E2CB5E"/>
<rect x="234.1" y="613.8" width="84.0" height="40.0" fill="#70943C"/>
<rect x="150.1" y="613.8" width="84.0" height="40.0" fill="#548235"/>
<rect x="62.8" y="613.8" width="88.3" height="40.0" fill="#548235"/>
<line x1="149.8" y1="613.8" x2="149.8" y2="654.6" stroke="#000" stroke-opacity="0.92" stroke-width="2.3" stroke-dasharray="9.68 2.4" stroke-dashoffset="0.02"/>
<line x1="233.8" y1="613.8" x2="233.8" y2="654.6" stroke="#000" stroke-opacity="0.92" stroke-width="2.3" stroke-dasharray="9.68 2.4" stroke-dashoffset="0.02"/>
<line x1="317.8" y1="613.8" x2="317.8" y2="654.6" stroke="#000" stroke-opacity="0.92" stroke-width="2.3" stroke-dasharray="9.68 2.4" stroke-dashoffset="0.02"/>
<line x1="401.8" y1="613.8" x2="401.8" y2="654.6" stroke="#000" stroke-opacity="0.92" stroke-width="2.3" stroke-dasharray="9.68 2.4" stroke-dashoffset="0.02"/>
<line x1="485.8" y1="613.8" x2="485.8" y2="654.6" stroke="#000" stroke-opacity="0.92" stroke-width="2.3" stroke-dasharray="9.68 2.4" stroke-dashoffset="0.02"/>
<line x1="569.8" y1="613.8" x2="569.8" y2="654.6" stroke="#000" stroke-opacity="0.92" stroke-width="2.3" stroke-dasharray="9.68 2.4" stroke-dashoffset="0.02"/>
<line x1="653.8" y1="613.8" x2="653.8" y2="654.6" stroke="#000" stroke-opacity="0.92" stroke-width="2.3" stroke-dasharray="9.68 2.4" stroke-dashoffset="0.02"/>
<line x1="737.8" y1="613.8" x2="737.8" y2="654.6" stroke="#000" stroke-opacity="0.92" stroke-width="2.3" stroke-dasharray="9.68 2.4" stroke-dashoffset="0.02"/>
<line x1="821.8" y1="613.8" x2="821.8" y2="654.6" stroke="#000" stroke-opacity="0.92" stroke-width="2.3" stroke-dasharray="9.68 2.4" stroke-dashoffset="0.02"/>
<line x1="905.8" y1="613.8" x2="905.8" y2="654.6" stroke="#000" stroke-opacity="0.92" stroke-width="2.3" stroke-dasharray="9.68 2.4" stroke-dashoffset="0.02"/>
<line x1="989.8" y1="613.8" x2="989.8" y2="654.6" stroke="#000" stroke-opacity="0.92" stroke-width="2.3" stroke-dasharray="9.68 2.4" stroke-dashoffset="0.02"/>
<line x1="1073.8" y1="613.8" x2="1073.8" y2="654.6" stroke="#000" stroke-opacity="0.92" stroke-width="2.3" stroke-dasharray="9.68 2.4" stroke-dashoffset="0.02"/>
<line x1="1157.8" y1="613.8" x2="1157.8" y2="654.6" stroke="#000" stroke-opacity="0.92" stroke-width="2.3" stroke-dasharray="9.68 2.4" stroke-dashoffset="0.02"/>
<line x1="1243.7" y1="613.8" x2="1243.7" y2="654.6" stroke="#000" stroke-opacity="0.92" stroke-width="2.3" stroke-dasharray="9.68 2.4" stroke-dashoffset="0.02"/>
<line x1="1327.5" y1="613.8" x2="1327.5" y2="654.6" stroke="#000" stroke-opacity="0.92" stroke-width="2.3" stroke-dasharray="9.68 2.4" stroke-dashoffset="0.02"/>
<line x1="1412.0" y1="613.8" x2="1412.0" y2="654.6" stroke="#000" stroke-opacity="0.92" stroke-width="2.3" stroke-dasharray="9.68 2.4" stroke-dashoffset="0.02"/>
<line x1="1495.7" y1="613.8" x2="1495.7" y2="654.6" stroke="#000" stroke-opacity="0.92" stroke-width="2.3" stroke-dasharray="9.68 2.4" stroke-dashoffset="0.02"/>
<line x1="1580.0" y1="613.8" x2="1580.0" y2="654.6" stroke="#000" stroke-opacity="0.92" stroke-width="2.3" stroke-dasharray="9.68 2.4" stroke-dashoffset="0.02"/>
<line x1="1664.0" y1="613.8" x2="1664.0" y2="654.6" stroke="#000" stroke-opacity="0.92" stroke-width="2.3" stroke-dasharray="9.68 2.4" stroke-dashoffset="0.02"/>
<line x1="1751.7" y1="613.8" x2="1751.7" y2="654.6" stroke="#000" stroke-opacity="0.92" stroke-width="2.3" stroke-dasharray="9.68 2.4" stroke-dashoffset="0.02"/>
<line x1="1835.7" y1="613.8" x2="1835.7" y2="654.6" stroke="#000" stroke-opacity="0.92" stroke-width="2.3" stroke-dasharray="9.68 2.4" stroke-dashoffset="0.02"/>
<line x1="1920.0" y1="613.8" x2="1920.0" y2="654.6" stroke="#000" stroke-opacity="0.92" stroke-width="2.3" stroke-dasharray="9.68 2.4" stroke-dashoffset="0.02"/>
<text transform="translate(108.0,639.6) scale(1.1,1)" font-size="14.5" text-anchor="middle" fill="#fff" font-weight="bold" >3 990</text>
<text transform="translate(192.0,639.6) scale(1.1,1)" font-size="14.5" text-anchor="middle" fill="#fff" font-weight="bold" >998</text>
<text transform="translate(276.0,639.6) scale(1.1,1)" font-size="14.5" text-anchor="middle" fill="#fff" font-weight="bold" >443</text>
<text transform="translate(360.0,639.6) scale(1.1,1)" font-size="14.5" text-anchor="middle" fill="#fff" font-weight="bold" >249</text>
<text transform="translate(444.0,639.6) scale(1.1,1)" font-size="14.5" text-anchor="middle" fill="#fff" font-weight="bold" >160</text>
<text transform="translate(528.0,639.6) scale(1.1,1)" font-size="14.5" text-anchor="middle" fill="#fff" font-weight="bold" >111</text>
<text transform="translate(612.0,639.6) scale(1.1,1)" font-size="14.5" text-anchor="middle" fill="#fff" font-weight="bold" >81</text>
<text transform="translate(696.0,639.6) scale(1.1,1)" font-size="14.5" text-anchor="middle" fill="#fff" font-weight="bold" >62</text>
<text transform="translate(780.0,639.6) scale(1.1,1)" font-size="14.5" text-anchor="middle" fill="#fff" font-weight="bold" >49</text>
<text transform="translate(864.0,639.6) scale(1.1,1)" font-size="14.5" text-anchor="middle" fill="#fff" font-weight="bold" >40</text>
<text transform="translate(948.0,639.6) scale(1.1,1)" font-size="14.5" text-anchor="middle" fill="#fff" font-weight="bold" >33</text>
<text transform="translate(1032.0,639.6) scale(1.1,1)" font-size="14.5" text-anchor="middle" fill="#fff" font-weight="bold" >28</text>
<text transform="translate(1116.0,639.6) scale(1.1,1)" font-size="14.5" text-anchor="middle" fill="#fff" font-weight="bold" >24</text>
<text transform="translate(1201.7,639.6) scale(1.1,1)" font-size="14.5" text-anchor="middle" fill="#fff" font-weight="bold" >20</text>
<text transform="translate(1285.9,639.6) scale(1.1,1)" font-size="14.5" text-anchor="middle" fill="#fff" font-weight="bold" >18</text>
<text transform="translate(1370.0,639.6) scale(1.1,1)" font-size="14.5" text-anchor="middle" fill="#fff" font-weight="bold" >16</text>
<text transform="translate(1454.2,639.6) scale(1.1,1)" font-size="14.5" text-anchor="middle" fill="#fff" font-weight="bold" >14</text>
<text transform="translate(1538.0,639.6) scale(1.1,1)" font-size="14.5" text-anchor="middle" fill="#fff" font-weight="bold" >12</text>
<text transform="translate(1622.2,639.6) scale(1.1,1)" font-size="14.5" text-anchor="middle" fill="#fff" font-weight="bold" >11</text>
<text transform="translate(1706.2,639.6) scale(1.1,1)" font-size="14.5" text-anchor="middle" fill="#fff" font-weight="bold" >10</text>
<text transform="translate(1793.7,639.6) scale(1.1,1)" font-size="14.5" text-anchor="middle" fill="#fff" font-weight="bold" >4</text>
<text transform="translate(1877.7,639.6) scale(1.1,1)" font-size="14.5" text-anchor="middle" fill="#fff" font-weight="bold" >2</text>
<text transform="translate(1962.2,639.6) scale(1.1,1)" font-size="14.5" text-anchor="middle" fill="#fff" font-weight="bold" >2</text>
<text transform="translate(127.8,679.5) scale(1.06,1)" font-size="14.5" text-anchor="middle" fill="#fff" font-weight="bold" >1 773</text>
<text transform="translate(234.3,679.5) scale(1.06,1)" font-size="14.5" text-anchor="middle" fill="#fff" font-weight="bold" >638</text>
<text transform="translate(318.3,679.5) scale(1.06,1)" font-size="14.5" text-anchor="middle" fill="#fff" font-weight="bold" >326</text>
<text transform="translate(402.3,679.5) scale(1.06,1)" font-size="14.5" text-anchor="middle" fill="#fff" font-weight="bold" >197</text>
<text transform="translate(486.3,679.5) scale(1.06,1)" font-size="14.5" text-anchor="middle" fill="#fff" font-weight="bold" >132</text>
<text transform="translate(570.3,679.5) scale(1.06,1)" font-size="14.5" text-anchor="middle" fill="#fff" font-weight="bold" >94</text>
<text transform="translate(654.3,679.5) scale(1.06,1)" font-size="14.5" text-anchor="middle" fill="#fff" font-weight="bold" >71</text>
<text transform="translate(738.3,679.5) scale(1.06,1)" font-size="14.5" text-anchor="middle" fill="#fff" font-weight="bold" >55</text>
<text transform="translate(822.3,679.5) scale(1.06,1)" font-size="14.5" text-anchor="middle" fill="#fff" font-weight="bold" >44</text>
<text transform="translate(906.3,679.5) scale(1.06,1)" font-size="14.5" text-anchor="middle" fill="#fff" font-weight="bold" >36</text>
<text transform="translate(990.3,679.5) scale(1.06,1)" font-size="14.5" text-anchor="middle" fill="#fff" font-weight="bold" >30</text>
<text transform="translate(1074.3,679.5) scale(1.06,1)" font-size="14.5" text-anchor="middle" fill="#fff" font-weight="bold" >26</text>
<text transform="translate(1159.2,679.5) scale(1.06,1)" font-size="14.5" text-anchor="middle" fill="#fff" font-weight="bold" >22</text>
<text transform="translate(1244.1,679.5) scale(1.06,1)" font-size="14.5" text-anchor="middle" fill="#fff" font-weight="bold" >19</text>
<text transform="translate(1328.2,679.5) scale(1.06,1)" font-size="14.5" text-anchor="middle" fill="#fff" font-weight="bold" >17</text>
<text transform="translate(1412.4,679.5) scale(1.06,1)" font-size="14.5" text-anchor="middle" fill="#fff" font-weight="bold" >15</text>
<text transform="translate(1496.4,679.5) scale(1.06,1)" font-size="14.5" text-anchor="middle" fill="#fff" font-weight="bold" >13</text>
<text transform="translate(1580.4,679.5) scale(1.06,1)" font-size="14.5" text-anchor="middle" fill="#fff" font-weight="bold" >12</text>
<text transform="translate(1664.5,679.5) scale(1.06,1)" font-size="14.5" text-anchor="middle" fill="#fff" font-weight="bold" >10</text>
<text transform="translate(1750.2,679.5) scale(1.06,1)" font-size="14.5" text-anchor="middle" fill="#fff" font-weight="bold" >6</text>
<text transform="translate(1836.0,679.5) scale(1.06,1)" font-size="14.5" text-anchor="middle" fill="#fff" font-weight="bold" >3</text>
<text transform="translate(1941.2,679.5) scale(1.06,1)" font-size="14.5" text-anchor="middle" fill="#fff" font-weight="bold" >2</text>
<text x="0.0" y="0.0" font-size="14" text-anchor="start" fill="#111" textLength="52.2" lengthAdjust="spacingAndGlyphs" transform="translate(37.6,679) rotate(-90)">СРЕДНИЕ</text>
<text x="0.0" y="0.0" font-size="14" text-anchor="start" fill="#111" textLength="61.7" lengthAdjust="spacingAndGlyphs" transform="translate(57.7,683.7) rotate(-90)">ЗНАЧЕНИЯ</text>
<text x="577.0" y="723.0" font-size="24.5" text-anchor="start" fill="#000" textLength="102.3" lengthAdjust="spacingAndGlyphs" stroke="#000" stroke-width="0.55" stroke-linejoin="round">Средняя</text>
<text x="696.0" y="723.0" font-size="24.5" text-anchor="start" fill="#000" textLength="181.1" lengthAdjust="spacingAndGlyphs" stroke="#000" stroke-width="0.55" stroke-linejoin="round">освещённость</text>
<text x="893.8" y="723.0" font-size="24.5" text-anchor="start" fill="#000" textLength="46.8" lengthAdjust="spacingAndGlyphs" stroke="#000" stroke-width="0.55" stroke-linejoin="round">(Лк)</text>
<text x="958.5" y="723.0" font-size="24.5" text-anchor="start" fill="#000" textLength="11.4" lengthAdjust="spacingAndGlyphs" stroke="#000" stroke-width="0.55" stroke-linejoin="round">в</text>
<text x="987.4" y="723.0" font-size="24.5" text-anchor="start" fill="#000" textLength="54.7" lengthAdjust="spacingAndGlyphs" stroke="#000" stroke-width="0.55" stroke-linejoin="round">зоне</text>
<text x="1059.5" y="723.0" font-size="24.5" text-anchor="start" fill="#000" textLength="55.4" lengthAdjust="spacingAndGlyphs" stroke="#000" stroke-width="0.55" stroke-linejoin="round">поле</text>
<text x="1132.8" y="723.0" font-size="24.5" text-anchor="start" fill="#000" textLength="57.8" lengthAdjust="spacingAndGlyphs" stroke="#000" stroke-width="0.55" stroke-linejoin="round">луча</text>
<text x="1206.0" y="723.0" font-size="24.5" text-anchor="start" fill="#000" textLength="11.5" lengthAdjust="spacingAndGlyphs" stroke="#000" stroke-width="0.55" stroke-linejoin="round">в</text>
<text x="1233.4" y="723.0" font-size="24.5" text-anchor="start" fill="#000" textLength="91.5" lengthAdjust="spacingAndGlyphs" stroke="#000" stroke-width="0.55" stroke-linejoin="round">режиме</text>
<text x="1344.0" y="723.0" font-size="24.5" text-anchor="start" fill="#000" textLength="135.3" lengthAdjust="spacingAndGlyphs" stroke="#000" stroke-width="0.55" stroke-linejoin="round">“R+G+B+W”</text>
<text x="25.4" y="748.3" font-size="14.5" text-anchor="start" fill="#111" textLength="517.6" lengthAdjust="spacingAndGlyphs" >Средняя освещённость (Лк) в режиме использования отдельных цветов:</text>
<rect x="21.5" y="774.7" width="21.1" height="19.2" fill="#C00000"/>
<rect x="21.5" y="793.9" width="21.1" height="20.3" fill="#375623"/>
<rect x="21.5" y="814.2" width="21.1" height="19.7" fill="#002060"/>
<rect x="21.5" y="833.9" width="21.1" height="20.5" fill="#ffffff"/>
<rect x="21.5" y="774.7" width="21.1" height="79.7" fill="none" stroke="#000" stroke-width="1" stroke-dasharray="1.5 1.5"/>
<text transform="translate(45.3,787.4) scale(0.9,1)" font-size="14" text-anchor="start" fill="#111" stroke="#111" stroke-width="0.45">R</text>
<text transform="translate(45.3,807.4) scale(0.9,1)" font-size="14" text-anchor="start" fill="#111" stroke="#111" stroke-width="0.45">G</text>
<text transform="translate(45.3,827.4) scale(0.9,1)" font-size="14" text-anchor="start" fill="#111" stroke="#111" stroke-width="0.45">B</text>
<text transform="translate(45.3,847.4) scale(0.9,1)" font-size="14" text-anchor="start" fill="#111" stroke="#111" stroke-width="0.45">W</text>
<line x1="150.4" y1="754" x2="150.4" y2="874.4" stroke="#000" stroke-width="2.8"/>
<text transform="translate(107.2,769.8) scale(0.9,1)" font-size="14" text-anchor="middle" fill="#1a1a1a" >1 м</text>
<circle cx="73.9" cy="785" r="7.6" fill="#6CAA96" stroke="#4f8a78" stroke-width="0.7"/>
<text transform="translate(106.9,789.7) scale(0.96,1)" font-size="14" text-anchor="middle" fill="#1a1a1a" >769</text>
<circle cx="73.9" cy="805" r="7.6" fill="#6CAA96" stroke="#4f8a78" stroke-width="0.7"/>
<text transform="translate(106.9,809.7) scale(0.96,1)" font-size="14" text-anchor="middle" fill="#1a1a1a" >2 218</text>
<circle cx="73.9" cy="825" r="7.6" fill="#6CAA96" stroke="#4f8a78" stroke-width="0.7"/>
<text transform="translate(106.9,829.7) scale(0.96,1)" font-size="14" text-anchor="middle" fill="#1a1a1a" >350</text>
<circle cx="73.9" cy="845" r="7.6" fill="#6CAA96" stroke="#4f8a78" stroke-width="0.7"/>
<text transform="translate(106.9,849.7) scale(0.96,1)" font-size="14" text-anchor="middle" fill="#1a1a1a" >1 776</text>
<text transform="translate(106.9,869.5) scale(0.97,1)" font-size="14" text-anchor="middle" fill="#1a1a1a" >люкс</text>
<line x1="234.4" y1="754" x2="234.4" y2="874.4" stroke="#000" stroke-width="2.8"/>
<text transform="translate(192.9,769.8) scale(0.9,1)" font-size="14" text-anchor="middle" fill="#1a1a1a" >2 м</text>
<circle cx="160.8" cy="785" r="7.6" fill="#ECC078" stroke="#b8924e" stroke-width="0.7"/>
<text transform="translate(192.6,789.7) scale(0.96,1)" font-size="14" text-anchor="middle" fill="#1a1a1a" >192</text>
<circle cx="160.8" cy="805" r="7.6" fill="#6CAA96" stroke="#4f8a78" stroke-width="0.7"/>
<text transform="translate(192.6,809.7) scale(0.96,1)" font-size="14" text-anchor="middle" fill="#1a1a1a" >555</text>
<circle cx="160.8" cy="825" r="7.6" fill="#DD5432" stroke="#b03c20" stroke-width="0.7"/>
<text transform="translate(192.6,829.7) scale(0.96,1)" font-size="14" text-anchor="middle" fill="#1a1a1a" >88</text>
<circle cx="160.8" cy="845" r="7.6" fill="#6CAA96" stroke="#4f8a78" stroke-width="0.7"/>
<text transform="translate(192.6,849.7) scale(0.96,1)" font-size="14" text-anchor="middle" fill="#1a1a1a" >444</text>
<text transform="translate(192.6,869.5) scale(0.97,1)" font-size="14" text-anchor="middle" fill="#1a1a1a" >люкс</text>
<line x1="318.4" y1="754" x2="318.4" y2="874.4" stroke="#000" stroke-width="2.8"/>
<text transform="translate(276.9,769.8) scale(0.9,1)" font-size="14" text-anchor="middle" fill="#1a1a1a" >3 м</text>
<circle cx="244.8" cy="785" r="7.6" fill="#DD5432" stroke="#b03c20" stroke-width="0.7"/>
<text transform="translate(276.6,789.7) scale(0.96,1)" font-size="14" text-anchor="middle" fill="#1a1a1a" >85</text>
<circle cx="244.8" cy="805" r="7.6" fill="#6CAA96" stroke="#4f8a78" stroke-width="0.7"/>
<text transform="translate(276.6,809.7) scale(0.96,1)" font-size="14" text-anchor="middle" fill="#1a1a1a" >246</text>
<circle cx="244.8" cy="825" r="7.6" fill="#DD5432" stroke="#b03c20" stroke-width="0.7"/>
<text transform="translate(276.6,829.7) scale(0.96,1)" font-size="14" text-anchor="middle" fill="#1a1a1a" >39</text>
<circle cx="244.8" cy="845" r="7.6" fill="#ECC078" stroke="#b8924e" stroke-width="0.7"/>
<text transform="translate(276.6,849.7) scale(0.96,1)" font-size="14" text-anchor="middle" fill="#1a1a1a" >197</text>
<text transform="translate(276.6,869.5) scale(0.97,1)" font-size="14" text-anchor="middle" fill="#1a1a1a" >люкс</text>
<line x1="402.4" y1="754" x2="402.4" y2="874.4" stroke="#000" stroke-width="2.8"/>
<text transform="translate(360.9,769.8) scale(0.9,1)" font-size="14" text-anchor="middle" fill="#1a1a1a" >4 м</text>
<circle cx="328.8" cy="785" r="7.6" fill="#DD5432" stroke="#b03c20" stroke-width="0.7"/>
<text transform="translate(360.6,789.7) scale(0.96,1)" font-size="14" text-anchor="middle" fill="#1a1a1a" >48</text>
<circle cx="328.8" cy="805" r="7.6" fill="#ECC078" stroke="#b8924e" stroke-width="0.7"/>
<text transform="translate(360.6,809.7) scale(0.96,1)" font-size="14" text-anchor="middle" fill="#1a1a1a" >139</text>
<circle cx="328.8" cy="825" r="7.6" fill="#555555" stroke="#4a4a4a" stroke-width="0.7"/>
<text transform="translate(360.6,829.7) scale(0.96,1)" font-size="14" text-anchor="middle" fill="#1a1a1a" >22</text>
<circle cx="328.8" cy="845" r="7.6" fill="#ECC078" stroke="#b8924e" stroke-width="0.7"/>
<text transform="translate(360.6,849.7) scale(0.96,1)" font-size="14" text-anchor="middle" fill="#1a1a1a" >111</text>
<text transform="translate(360.6,869.5) scale(0.97,1)" font-size="14" text-anchor="middle" fill="#1a1a1a" >люкс</text>
<line x1="486.4" y1="754" x2="486.4" y2="874.4" stroke="#000" stroke-width="2.8"/>
<text transform="translate(444.9,769.8) scale(0.9,1)" font-size="14" text-anchor="middle" fill="#1a1a1a" >5 м</text>
<circle cx="412.8" cy="785" r="7.6" fill="#DD5432" stroke="#b03c20" stroke-width="0.7"/>
<text transform="translate(444.6,789.7) scale(0.96,1)" font-size="14" text-anchor="middle" fill="#1a1a1a" >31</text>
<circle cx="412.8" cy="805" r="7.6" fill="#DD5432" stroke="#b03c20" stroke-width="0.7"/>
<text transform="translate(444.6,809.7) scale(0.96,1)" font-size="14" text-anchor="middle" fill="#1a1a1a" >89</text>
<circle cx="412.8" cy="825" r="7.6" fill="#555555" stroke="#4a4a4a" stroke-width="0.7"/>
<text transform="translate(444.6,829.7) scale(0.96,1)" font-size="14" text-anchor="middle" fill="#1a1a1a" >14</text>
<circle cx="412.8" cy="845" r="7.6" fill="#DD5432" stroke="#b03c20" stroke-width="0.7"/>
<text transform="translate(444.6,849.7) scale(0.96,1)" font-size="14" text-anchor="middle" fill="#1a1a1a" >71</text>
<text transform="translate(444.6,869.5) scale(0.97,1)" font-size="14" text-anchor="middle" fill="#1a1a1a" >люкс</text>
<line x1="570.4" y1="754" x2="570.4" y2="874.4" stroke="#000" stroke-width="2.8"/>
<text transform="translate(528.9,769.8) scale(0.9,1)" font-size="14" text-anchor="middle" fill="#1a1a1a" >6 м</text>
<circle cx="496.8" cy="785" r="7.6" fill="#555555" stroke="#4a4a4a" stroke-width="0.7"/>
<text transform="translate(528.6,789.7) scale(0.96,1)" font-size="14" text-anchor="middle" fill="#1a1a1a" >21</text>
<circle cx="496.8" cy="805" r="7.6" fill="#DD5432" stroke="#b03c20" stroke-width="0.7"/>
<text transform="translate(528.6,809.7) scale(0.96,1)" font-size="14" text-anchor="middle" fill="#1a1a1a" >62</text>
<circle cx="496.8" cy="825" r="7.6" fill="#555555" stroke="#4a4a4a" stroke-width="0.7"/>
<text transform="translate(528.6,829.7) scale(0.96,1)" font-size="14" text-anchor="middle" fill="#1a1a1a" >10</text>
<circle cx="496.8" cy="845" r="7.6" fill="#DD5432" stroke="#b03c20" stroke-width="0.7"/>
<text transform="translate(528.6,849.7) scale(0.96,1)" font-size="14" text-anchor="middle" fill="#1a1a1a" >49</text>
<text transform="translate(528.6,869.5) scale(0.97,1)" font-size="14" text-anchor="middle" fill="#1a1a1a" >люкс</text>
<line x1="654.4" y1="754" x2="654.4" y2="874.4" stroke="#000" stroke-width="2.8"/>
<text transform="translate(612.9,769.8) scale(0.9,1)" font-size="14" text-anchor="middle" fill="#1a1a1a" >7 м</text>
<circle cx="580.8" cy="785" r="7.6" fill="#555555" stroke="#4a4a4a" stroke-width="0.7"/>
<text transform="translate(612.6,789.7) scale(0.96,1)" font-size="14" text-anchor="middle" fill="#1a1a1a" >16</text>
<circle cx="580.8" cy="805" r="7.6" fill="#DD5432" stroke="#b03c20" stroke-width="0.7"/>
<text transform="translate(612.6,809.7) scale(0.96,1)" font-size="14" text-anchor="middle" fill="#1a1a1a" >45</text>
<circle cx="580.8" cy="825" r="7.6" fill="#555555" stroke="#4a4a4a" stroke-width="0.7"/>
<text transform="translate(612.6,829.7) scale(0.96,1)" font-size="14" text-anchor="middle" fill="#1a1a1a" >7</text>
<circle cx="580.8" cy="845" r="7.6" fill="#DD5432" stroke="#b03c20" stroke-width="0.7"/>
<text transform="translate(612.6,849.7) scale(0.96,1)" font-size="14" text-anchor="middle" fill="#1a1a1a" >36</text>
<text transform="translate(612.6,869.5) scale(0.97,1)" font-size="14" text-anchor="middle" fill="#1a1a1a" >люкс</text>
<line x1="738.4" y1="754" x2="738.4" y2="874.4" stroke="#000" stroke-width="2.8"/>
<text transform="translate(696.9,769.8) scale(0.9,1)" font-size="14" text-anchor="middle" fill="#1a1a1a" >8 м</text>
<circle cx="664.8" cy="785" r="7.6" fill="#555555" stroke="#4a4a4a" stroke-width="0.7"/>
<text transform="translate(696.6,789.7) scale(0.96,1)" font-size="14" text-anchor="middle" fill="#1a1a1a" >12</text>
<circle cx="664.8" cy="805" r="7.6" fill="#DD5432" stroke="#b03c20" stroke-width="0.7"/>
<text transform="translate(696.6,809.7) scale(0.96,1)" font-size="14" text-anchor="middle" fill="#1a1a1a" >35</text>
<circle cx="664.8" cy="825" r="7.6" fill="#555555" stroke="#4a4a4a" stroke-width="0.7"/>
<text transform="translate(696.6,829.7) scale(0.96,1)" font-size="14" text-anchor="middle" fill="#1a1a1a" >5</text>
<circle cx="664.8" cy="845" r="7.6" fill="#555555" stroke="#4a4a4a" stroke-width="0.7"/>
<text transform="translate(696.6,849.7) scale(0.96,1)" font-size="14" text-anchor="middle" fill="#1a1a1a" >28</text>
<text transform="translate(696.6,869.5) scale(0.97,1)" font-size="14" text-anchor="middle" fill="#1a1a1a" >люкс</text>
<line x1="822.4" y1="754" x2="822.4" y2="874.4" stroke="#000" stroke-width="2.8"/>
<text transform="translate(780.9,769.8) scale(0.9,1)" font-size="14" text-anchor="middle" fill="#1a1a1a" >9 м</text>
<circle cx="748.8" cy="785" r="7.6" fill="#555555" stroke="#4a4a4a" stroke-width="0.7"/>
<text transform="translate(780.6,789.7) scale(0.96,1)" font-size="14" text-anchor="middle" fill="#1a1a1a" >9</text>
<circle cx="748.8" cy="805" r="7.6" fill="#555555" stroke="#4a4a4a" stroke-width="0.7"/>
<text transform="translate(780.6,809.7) scale(0.96,1)" font-size="14" text-anchor="middle" fill="#1a1a1a" >27</text>
<circle cx="748.8" cy="825" r="7.6" fill="#555555" stroke="#4a4a4a" stroke-width="0.7"/>
<text transform="translate(780.6,829.7) scale(0.96,1)" font-size="14" text-anchor="middle" fill="#1a1a1a" >4</text>
<circle cx="748.8" cy="845" r="7.6" fill="#555555" stroke="#4a4a4a" stroke-width="0.7"/>
<text transform="translate(780.6,849.7) scale(0.96,1)" font-size="14" text-anchor="middle" fill="#1a1a1a" >22</text>
<text transform="translate(780.6,869.5) scale(0.97,1)" font-size="14" text-anchor="middle" fill="#1a1a1a" >люкс</text>
<line x1="906.4" y1="754" x2="906.4" y2="874.4" stroke="#000" stroke-width="2.8"/>
<text transform="translate(864.9,769.8) scale(0.9,1)" font-size="14" text-anchor="middle" fill="#1a1a1a" >10 м</text>
<circle cx="832.8" cy="785" r="7.6" fill="#555555" stroke="#4a4a4a" stroke-width="0.7"/>
<text transform="translate(864.6,789.7) scale(0.96,1)" font-size="14" text-anchor="middle" fill="#1a1a1a" >8</text>
<circle cx="832.8" cy="805" r="7.6" fill="#555555" stroke="#4a4a4a" stroke-width="0.7"/>
<text transform="translate(864.6,809.7) scale(0.96,1)" font-size="14" text-anchor="middle" fill="#1a1a1a" >22</text>
<circle cx="832.8" cy="825" r="7.6" fill="#555555" stroke="#4a4a4a" stroke-width="0.7"/>
<text transform="translate(864.6,829.7) scale(0.96,1)" font-size="14" text-anchor="middle" fill="#1a1a1a" >4</text>
<circle cx="832.8" cy="845" r="7.6" fill="#555555" stroke="#4a4a4a" stroke-width="0.7"/>
<text transform="translate(864.6,849.7) scale(0.96,1)" font-size="14" text-anchor="middle" fill="#1a1a1a" >18</text>
<text transform="translate(864.6,869.5) scale(0.97,1)" font-size="14" text-anchor="middle" fill="#1a1a1a" >люкс</text>
<line x1="990.4" y1="754" x2="990.4" y2="874.4" stroke="#000" stroke-width="2.8"/>
<text transform="translate(948.9,769.8) scale(0.9,1)" font-size="14" text-anchor="middle" fill="#1a1a1a" >11 м</text>
<circle cx="916.8" cy="785" r="7.6" fill="#555555" stroke="#4a4a4a" stroke-width="0.7"/>
<text transform="translate(948.6,789.7) scale(0.96,1)" font-size="14" text-anchor="middle" fill="#1a1a1a" >6</text>
<circle cx="916.8" cy="805" r="7.6" fill="#555555" stroke="#4a4a4a" stroke-width="0.7"/>
<text transform="translate(948.6,809.7) scale(0.96,1)" font-size="14" text-anchor="middle" fill="#1a1a1a" >18</text>
<circle cx="916.8" cy="825" r="7.6" fill="#555555" stroke="#4a4a4a" stroke-width="0.7"/>
<text transform="translate(948.6,829.7) scale(0.96,1)" font-size="14" text-anchor="middle" fill="#1a1a1a" >3</text>
<circle cx="916.8" cy="845" r="7.6" fill="#555555" stroke="#4a4a4a" stroke-width="0.7"/>
<text transform="translate(948.6,849.7) scale(0.96,1)" font-size="14" text-anchor="middle" fill="#1a1a1a" >15</text>
<text transform="translate(948.6,869.5) scale(0.97,1)" font-size="14" text-anchor="middle" fill="#1a1a1a" >люкс</text>
<line x1="1074.4" y1="754" x2="1074.4" y2="874.4" stroke="#000" stroke-width="2.8"/>
<text transform="translate(1032.9,769.8) scale(0.9,1)" font-size="14" text-anchor="middle" fill="#1a1a1a" >12 м</text>
<circle cx="1000.8" cy="785" r="7.6" fill="#555555" stroke="#4a4a4a" stroke-width="0.7"/>
<text transform="translate(1032.6,789.7) scale(0.96,1)" font-size="14" text-anchor="middle" fill="#1a1a1a" >5</text>
<circle cx="1000.8" cy="805" r="7.6" fill="#555555" stroke="#4a4a4a" stroke-width="0.7"/>
<text transform="translate(1032.6,809.7) scale(0.96,1)" font-size="14" text-anchor="middle" fill="#1a1a1a" >15</text>
<circle cx="1000.8" cy="825" r="7.6" fill="#555555" stroke="#4a4a4a" stroke-width="0.7"/>
<text transform="translate(1032.6,829.7) scale(0.96,1)" font-size="14" text-anchor="middle" fill="#1a1a1a" >2</text>
<circle cx="1000.8" cy="845" r="7.6" fill="#555555" stroke="#4a4a4a" stroke-width="0.7"/>
<text transform="translate(1032.6,849.7) scale(0.96,1)" font-size="14" text-anchor="middle" fill="#1a1a1a" >12</text>
<text transform="translate(1032.6,869.5) scale(0.97,1)" font-size="14" text-anchor="middle" fill="#1a1a1a" >люкс</text>
<line x1="1158.4" y1="754" x2="1158.4" y2="874.4" stroke="#000" stroke-width="2.8"/>
<text transform="translate(1116.9,769.8) scale(0.9,1)" font-size="14" text-anchor="middle" fill="#1a1a1a" >13 м</text>
<circle cx="1084.8" cy="785" r="7.6" fill="#555555" stroke="#4a4a4a" stroke-width="0.7"/>
<text transform="translate(1116.6,789.7) scale(0.96,1)" font-size="14" text-anchor="middle" fill="#1a1a1a" >5</text>
<circle cx="1084.8" cy="805" r="7.6" fill="#555555" stroke="#4a4a4a" stroke-width="0.7"/>
<text transform="translate(1116.6,809.7) scale(0.96,1)" font-size="14" text-anchor="middle" fill="#1a1a1a" >13</text>
<circle cx="1084.8" cy="825" r="7.6" fill="#555555" stroke="#4a4a4a" stroke-width="0.7"/>
<text transform="translate(1116.6,829.7) scale(0.96,1)" font-size="14" text-anchor="middle" fill="#1a1a1a" >2</text>
<circle cx="1084.8" cy="845" r="7.6" fill="#555555" stroke="#4a4a4a" stroke-width="0.7"/>
<text transform="translate(1116.6,849.7) scale(0.96,1)" font-size="14" text-anchor="middle" fill="#1a1a1a" >11</text>
<text transform="translate(1116.6,869.5) scale(0.97,1)" font-size="14" text-anchor="middle" fill="#1a1a1a" >люкс</text>
<line x1="1244.3" y1="754" x2="1244.3" y2="874.4" stroke="#000" stroke-width="2.8"/>
<text transform="translate(1201.8,769.8) scale(0.9,1)" font-size="14" text-anchor="middle" fill="#1a1a1a" >14 м</text>
<circle cx="1168.8" cy="785" r="7.6" fill="#555555" stroke="#4a4a4a" stroke-width="0.7"/>
<text transform="translate(1201.5,789.7) scale(0.96,1)" font-size="14" text-anchor="middle" fill="#1a1a1a" >4</text>
<circle cx="1168.8" cy="805" r="7.6" fill="#555555" stroke="#4a4a4a" stroke-width="0.7"/>
<text transform="translate(1201.5,809.7) scale(0.96,1)" font-size="14" text-anchor="middle" fill="#1a1a1a" >11</text>
<circle cx="1168.8" cy="825" r="7.6" fill="#555555" stroke="#4a4a4a" stroke-width="0.7"/>
<text transform="translate(1201.5,829.7) scale(0.96,1)" font-size="14" text-anchor="middle" fill="#1a1a1a" >2</text>
<circle cx="1168.8" cy="845" r="7.6" fill="#555555" stroke="#4a4a4a" stroke-width="0.7"/>
<text transform="translate(1201.5,849.7) scale(0.96,1)" font-size="14" text-anchor="middle" fill="#1a1a1a" >9</text>
<text transform="translate(1201.5,869.5) scale(0.97,1)" font-size="14" text-anchor="middle" fill="#1a1a1a" >люкс</text>
<line x1="1328.1" y1="754" x2="1328.1" y2="874.4" stroke="#000" stroke-width="2.8"/>
<text transform="translate(1286.7,769.8) scale(0.9,1)" font-size="14" text-anchor="middle" fill="#1a1a1a" >15 м</text>
<circle cx="1254.7" cy="785" r="7.6" fill="#555555" stroke="#4a4a4a" stroke-width="0.7"/>
<text transform="translate(1286.4,789.7) scale(0.96,1)" font-size="14" text-anchor="middle" fill="#1a1a1a" >3</text>
<circle cx="1254.7" cy="805" r="7.6" fill="#555555" stroke="#4a4a4a" stroke-width="0.7"/>
<text transform="translate(1286.4,809.7) scale(0.96,1)" font-size="14" text-anchor="middle" fill="#1a1a1a" >10</text>
<circle cx="1254.7" cy="825" r="7.6" fill="#555555" stroke="#4a4a4a" stroke-width="0.7"/>
<text transform="translate(1286.4,829.7) scale(0.96,1)" font-size="14" text-anchor="middle" fill="#1a1a1a" >2</text>
<circle cx="1254.7" cy="845" r="7.6" fill="#555555" stroke="#4a4a4a" stroke-width="0.7"/>
<text transform="translate(1286.4,849.7) scale(0.96,1)" font-size="14" text-anchor="middle" fill="#1a1a1a" >8</text>
<text transform="translate(1286.4,869.5) scale(0.97,1)" font-size="14" text-anchor="middle" fill="#1a1a1a" >люкс</text>
<line x1="1412.6" y1="754" x2="1412.6" y2="874.4" stroke="#000" stroke-width="2.8"/>
<text transform="translate(1370.8,769.8) scale(0.9,1)" font-size="14" text-anchor="middle" fill="#1a1a1a" >16 м</text>
<circle cx="1338.5" cy="785" r="7.6" fill="#555555" stroke="#4a4a4a" stroke-width="0.7"/>
<text transform="translate(1370.5,789.7) scale(0.96,1)" font-size="14" text-anchor="middle" fill="#1a1a1a" >3</text>
<circle cx="1338.5" cy="805" r="7.6" fill="#555555" stroke="#4a4a4a" stroke-width="0.7"/>
<text transform="translate(1370.5,809.7) scale(0.96,1)" font-size="14" text-anchor="middle" fill="#1a1a1a" >9</text>
<circle cx="1338.5" cy="825" r="7.6" fill="#555555" stroke="#4a4a4a" stroke-width="0.7"/>
<text transform="translate(1370.5,829.7) scale(0.96,1)" font-size="14" text-anchor="middle" fill="#1a1a1a" >1</text>
<circle cx="1338.5" cy="845" r="7.6" fill="#555555" stroke="#4a4a4a" stroke-width="0.7"/>
<text transform="translate(1370.5,849.7) scale(0.96,1)" font-size="14" text-anchor="middle" fill="#1a1a1a" >7</text>
<text transform="translate(1370.5,869.5) scale(0.97,1)" font-size="14" text-anchor="middle" fill="#1a1a1a" >люкс</text>
<line x1="1496.3" y1="754" x2="1496.3" y2="874.4" stroke="#000" stroke-width="2.8"/>
<text transform="translate(1455.0,769.8) scale(0.9,1)" font-size="14" text-anchor="middle" fill="#1a1a1a" >17 м</text>
<circle cx="1423.0" cy="785" r="7.6" fill="#555555" stroke="#4a4a4a" stroke-width="0.7"/>
<text transform="translate(1454.7,789.7) scale(0.96,1)" font-size="14" text-anchor="middle" fill="#1a1a1a" >3</text>
<circle cx="1423.0" cy="805" r="7.6" fill="#555555" stroke="#4a4a4a" stroke-width="0.7"/>
<text transform="translate(1454.7,809.7) scale(0.96,1)" font-size="14" text-anchor="middle" fill="#1a1a1a" >8</text>
<circle cx="1423.0" cy="825" r="7.6" fill="#555555" stroke="#4a4a4a" stroke-width="0.7"/>
<text transform="translate(1454.7,829.7) scale(0.96,1)" font-size="14" text-anchor="middle" fill="#1a1a1a" >1</text>
<circle cx="1423.0" cy="845" r="7.6" fill="#555555" stroke="#4a4a4a" stroke-width="0.7"/>
<text transform="translate(1454.7,849.7) scale(0.96,1)" font-size="14" text-anchor="middle" fill="#1a1a1a" >6</text>
<text transform="translate(1454.7,869.5) scale(0.97,1)" font-size="14" text-anchor="middle" fill="#1a1a1a" >люкс</text>
<line x1="1580.6" y1="754" x2="1580.6" y2="874.4" stroke="#000" stroke-width="2.8"/>
<text transform="translate(1539.0,769.8) scale(0.9,1)" font-size="14" text-anchor="middle" fill="#1a1a1a" >18 м</text>
<circle cx="1506.7" cy="785" r="7.6" fill="#555555" stroke="#4a4a4a" stroke-width="0.7"/>
<text transform="translate(1538.7,789.7) scale(0.96,1)" font-size="14" text-anchor="middle" fill="#1a1a1a" >2</text>
<circle cx="1506.7" cy="805" r="7.6" fill="#555555" stroke="#4a4a4a" stroke-width="0.7"/>
<text transform="translate(1538.7,809.7) scale(0.96,1)" font-size="14" text-anchor="middle" fill="#1a1a1a" >7</text>
<circle cx="1506.7" cy="825" r="7.6" fill="#555555" stroke="#4a4a4a" stroke-width="0.7"/>
<text transform="translate(1538.7,829.7) scale(0.96,1)" font-size="14" text-anchor="middle" fill="#1a1a1a" >1</text>
<circle cx="1506.7" cy="845" r="7.6" fill="#555555" stroke="#4a4a4a" stroke-width="0.7"/>
<text transform="translate(1538.7,849.7) scale(0.96,1)" font-size="14" text-anchor="middle" fill="#1a1a1a" >5</text>
<text transform="translate(1538.7,869.5) scale(0.97,1)" font-size="14" text-anchor="middle" fill="#1a1a1a" >люкс</text>
<line x1="1664.6" y1="754" x2="1664.6" y2="874.4" stroke="#000" stroke-width="2.8"/>
<text transform="translate(1623.1,769.8) scale(0.9,1)" font-size="14" text-anchor="middle" fill="#1a1a1a" >19 м</text>
<circle cx="1591.0" cy="785" r="7.6" fill="#555555" stroke="#4a4a4a" stroke-width="0.7"/>
<text transform="translate(1622.8,789.7) scale(0.96,1)" font-size="14" text-anchor="middle" fill="#1a1a1a" >2</text>
<circle cx="1591.0" cy="805" r="7.6" fill="#555555" stroke="#4a4a4a" stroke-width="0.7"/>
<text transform="translate(1622.8,809.7) scale(0.96,1)" font-size="14" text-anchor="middle" fill="#1a1a1a" >6</text>
<circle cx="1591.0" cy="825" r="7.6" fill="#555555" stroke="#4a4a4a" stroke-width="0.7"/>
<text transform="translate(1622.8,829.7) scale(0.96,1)" font-size="14" text-anchor="middle" fill="#1a1a1a" >1</text>
<circle cx="1591.0" cy="845" r="7.6" fill="#555555" stroke="#4a4a4a" stroke-width="0.7"/>
<text transform="translate(1622.8,849.7) scale(0.96,1)" font-size="14" text-anchor="middle" fill="#1a1a1a" >5</text>
<text transform="translate(1622.8,869.5) scale(0.97,1)" font-size="14" text-anchor="middle" fill="#1a1a1a" >люкс</text>
<line x1="1752.3" y1="754" x2="1752.3" y2="874.4" stroke="#000" stroke-width="2.8"/>
<text transform="translate(1709.0,769.8) scale(0.9,1)" font-size="14" text-anchor="middle" fill="#1a1a1a" >20 м</text>
<circle cx="1675.0" cy="785" r="7.6" fill="#555555" stroke="#4a4a4a" stroke-width="0.7"/>
<text transform="translate(1708.7,789.7) scale(0.96,1)" font-size="14" text-anchor="middle" fill="#1a1a1a" >2</text>
<circle cx="1675.0" cy="805" r="7.6" fill="#555555" stroke="#4a4a4a" stroke-width="0.7"/>
<text transform="translate(1708.7,809.7) scale(0.96,1)" font-size="14" text-anchor="middle" fill="#1a1a1a" >6</text>
<circle cx="1675.0" cy="825" r="7.6" fill="#555555" stroke="#4a4a4a" stroke-width="0.7"/>
<text transform="translate(1708.7,829.7) scale(0.96,1)" font-size="14" text-anchor="middle" fill="#1a1a1a" >1</text>
<circle cx="1675.0" cy="845" r="7.6" fill="#555555" stroke="#4a4a4a" stroke-width="0.7"/>
<text transform="translate(1708.7,849.7) scale(0.96,1)" font-size="14" text-anchor="middle" fill="#1a1a1a" >4</text>
<text transform="translate(1708.7,869.5) scale(0.97,1)" font-size="14" text-anchor="middle" fill="#1a1a1a" >люкс</text>
<line x1="1836.3" y1="754" x2="1836.3" y2="874.4" stroke="#000" stroke-width="2.8"/>
<text transform="translate(1794.8,769.8) scale(0.9,1)" font-size="14" text-anchor="middle" fill="#1a1a1a" >25 м</text>
<circle cx="1762.7" cy="785" r="7.6" fill="#555555" stroke="#4a4a4a" stroke-width="0.7"/>
<text transform="translate(1794.5,789.7) scale(0.96,1)" font-size="14" text-anchor="middle" fill="#1a1a1a" >1</text>
<circle cx="1762.7" cy="805" r="7.6" fill="#555555" stroke="#4a4a4a" stroke-width="0.7"/>
<text transform="translate(1794.5,809.7) scale(0.96,1)" font-size="14" text-anchor="middle" fill="#1a1a1a" >2</text>
<circle cx="1762.7" cy="825" r="7.6" fill="#555555" stroke="#4a4a4a" stroke-width="0.7"/>
<text transform="translate(1794.5,829.7) scale(0.96,1)" font-size="14" text-anchor="middle" fill="#1a1a1a" >0</text>
<circle cx="1762.7" cy="845" r="7.6" fill="#555555" stroke="#4a4a4a" stroke-width="0.7"/>
<text transform="translate(1794.5,849.7) scale(0.96,1)" font-size="14" text-anchor="middle" fill="#1a1a1a" >2</text>
<text transform="translate(1794.5,869.5) scale(0.97,1)" font-size="14" text-anchor="middle" fill="#1a1a1a" >люкс</text>
<text x="1861.2" y="790.0" font-size="14.5" text-anchor="start" fill="#333" textLength="130.8" lengthAdjust="spacingAndGlyphs" >[R] RED (КРАСНЫЙ)</text>
<text x="1861.2" y="810.0" font-size="14.5" text-anchor="start" fill="#333" textLength="144.4" lengthAdjust="spacingAndGlyphs" >[G] GREEN (ЗЕЛЁНЫЙ)</text>
<text x="1861.2" y="830.0" font-size="14.5" text-anchor="start" fill="#333" textLength="118.4" lengthAdjust="spacingAndGlyphs" >[B] BLUE (СИНИЙ)</text>
<text x="1861.2" y="850.0" font-size="14.5" text-anchor="start" fill="#333" textLength="130.8" lengthAdjust="spacingAndGlyphs" >[W] WHITE (БЕЛЫЙ)</text>
<text x="25.0" y="911.2" font-size="14.5" text-anchor="start" fill="#a6a6a6" textLength="84.5" lengthAdjust="spacingAndGlyphs" >Примечания:</text>
<line x1="21" y1="914.5" x2="1075" y2="914.5" stroke="#222" stroke-width="1.2"/>
<text x="25.0" y="928.0" font-size="11" text-anchor="start" fill="#b0b0b0" textLength="1030.0" lengthAdjust="spacingAndGlyphs" >* Данные получены в лаборатории при использовании гониофотометра на тестовой дистанции 26 метров при температуре воздуха 25,3°C и относительной влажности воздуха 55,3%.</text>
<text x="25.0" y="948.0" font-size="11" text-anchor="start" fill="#b0b0b0" textLength="385.0" lengthAdjust="spacingAndGlyphs" >** Допустимая погрешность при измерения (согласно ГОСТ) +/- 10%</text>
<text x="25.0" y="968.0" font-size="11" text-anchor="start" fill="#b0b0b0" textLength="1243.0" lengthAdjust="spacingAndGlyphs" >*** Цветовая шкала освещённости построена на требованиях к вертикальной освещенности, равной 500 Люкс для эстрады (СНиП). Красная зона - низкая освещенность, желтая - ниже требований, зеленая - достаточная.</text>
<text x="25.0" y="988.0" font-size="11.5" text-anchor="start" fill="#a0a0a0" textLength="244.5" lengthAdjust="spacingAndGlyphs" >**** Данные по состоянию на 20.02.2023г.</text>
<text x="25.0" y="1008.0" font-size="11.5" text-anchor="start" fill="#a0a0a0" textLength="907.0" lengthAdjust="spacingAndGlyphs" >**** Сумма показателей освёщенности отдельных цветов светодиода не должна совпадать с измерениями освещённости в режиме всех цветов одновременно.</text>
<text x="1680.4" y="907.9" font-size="11.5" text-anchor="start" fill="#222" textLength="153.1" lengthAdjust="spacingAndGlyphs" >Цветовой ключ инфографики</text>
<line x1="1664.3" y1="914.6" x2="1836.7" y2="914.6" stroke="#222" stroke-width="1.2"/>
<text x="1709.6" y="928.0" font-size="13" text-anchor="start" fill="#333" textLength="81.0" lengthAdjust="spacingAndGlyphs" >менее 100 люкс</text>
<text x="1685.4" y="948.0" font-size="13" text-anchor="start" fill="#333" textLength="105.2" lengthAdjust="spacingAndGlyphs" >от 200 до 100 люкс</text>
<text x="1683.5" y="968.0" font-size="13" text-anchor="start" fill="#333" textLength="107.1" lengthAdjust="spacingAndGlyphs" >от 300 до 200 люкс</text>
<text x="1684.5" y="988.0" font-size="13" text-anchor="start" fill="#333" textLength="106.1" lengthAdjust="spacingAndGlyphs" >от 500 до 300 люкс</text>
<text x="1707.5" y="1008.0" font-size="13" text-anchor="start" fill="#333" textLength="83.1" lengthAdjust="spacingAndGlyphs" >более 500 люкс</text>
<path d="M1859.90,871.80h28.32v3.97h-28.32zM1896.31,871.80h8.09v3.97h-8.09zM1912.50,871.80h8.09v3.97h-8.09zM1924.64,871.80h8.09v3.97h-8.09zM1944.86,871.80h8.09v3.97h-8.09zM1981.28,871.80h28.32v3.97h-28.32zM1859.90,875.72h4.05v3.97h-4.05zM1884.18,875.72h4.05v3.97h-4.05zM1892.27,875.72h4.05v3.97h-4.05zM1904.41,875.72h8.09v3.97h-8.09zM1916.54,875.72h4.05v3.97h-4.05zM1924.64,875.72h8.09v3.97h-8.09zM1936.77,875.72h16.18v3.97h-16.18zM1981.28,875.72h4.05v3.97h-4.05zM2005.55,875.72h4.05v3.97h-4.05zM1859.90,879.63h4.05v3.97h-4.05zM1884.18,879.63h4.05v3.97h-4.05zM1892.27,879.63h4.05v3.97h-4.05zM1908.45,879.63h8.09v3.97h-8.09zM1920.59,879.63h8.09v3.97h-8.09zM1936.77,879.63h4.05v3.97h-4.05zM1944.86,879.63h4.05v3.97h-4.05zM1952.96,879.63h4.05v3.97h-4.05zM1961.05,879.63h4.05v3.97h-4.05zM1969.14,879.63h8.09v3.97h-8.09zM1981.28,879.63h4.05v3.97h-4.05zM2005.55,879.63h4.05v3.97h-4.05zM1859.90,883.55h4.05v3.97h-4.05zM1884.18,883.55h4.05v3.97h-4.05zM1892.27,883.55h4.05v3.97h-4.05zM1908.45,883.55h4.05v3.97h-4.05zM1920.59,883.55h4.05v3.97h-4.05zM1928.68,883.55h4.05v3.97h-4.05zM1940.82,883.55h16.18v3.97h-16.18zM1961.05,883.55h4.05v3.97h-4.05zM1969.14,883.55h4.05v3.97h-4.05zM1981.28,883.55h4.05v3.97h-4.05zM2005.55,883.55h4.05v3.97h-4.05zM1859.90,887.46h4.05v3.97h-4.05zM1884.18,887.46h4.05v3.97h-4.05zM1892.27,887.46h4.05v3.97h-4.05zM1904.41,887.46h16.18v3.97h-16.18zM1932.73,887.46h12.14v3.97h-12.14zM1961.05,887.46h8.09v3.97h-8.09zM1973.19,887.46h4.05v3.97h-4.05zM1981.28,887.46h4.05v3.97h-4.05zM2005.55,887.46h4.05v3.97h-4.05zM1859.90,891.38h4.05v3.97h-4.05zM1884.18,891.38h4.05v3.97h-4.05zM1892.27,891.38h12.14v3.97h-12.14zM1908.45,891.38h4.05v3.97h-4.05zM1916.54,891.38h8.09v3.97h-8.09zM1936.77,891.38h12.14v3.97h-12.14zM1952.96,891.38h4.05v3.97h-4.05zM1973.19,891.38h4.05v3.97h-4.05zM1981.28,891.38h4.05v3.97h-4.05zM2005.55,891.38h4.05v3.97h-4.05zM1859.90,895.30h28.32v3.97h-28.32zM1892.27,895.30h4.05v3.97h-4.05zM1900.36,895.30h4.05v3.97h-4.05zM1908.45,895.30h4.05v3.97h-4.05zM1916.54,895.30h4.05v3.97h-4.05zM1924.64,895.30h4.05v3.97h-4.05zM1932.73,895.30h4.05v3.97h-4.05zM1940.82,895.30h4.05v3.97h-4.05zM1948.91,895.30h4.05v3.97h-4.05zM1957.00,895.30h4.05v3.97h-4.05zM1965.09,895.30h4.05v3.97h-4.05zM1973.19,895.30h4.05v3.97h-4.05zM1981.28,895.30h28.32v3.97h-28.32zM1896.31,899.21h16.18v3.97h-16.18zM1916.54,899.21h4.05v3.97h-4.05zM1924.64,899.21h4.05v3.97h-4.05zM1936.77,899.21h20.23v3.97h-20.23zM1965.09,899.21h12.14v3.97h-12.14zM1867.99,903.13h4.05v3.97h-4.05zM1880.13,903.13h20.23v3.97h-20.23zM1908.45,903.13h4.05v3.97h-4.05zM1916.54,903.13h4.05v3.97h-4.05zM1932.73,903.13h4.05v3.97h-4.05zM1948.91,903.13h4.05v3.97h-4.05zM1961.05,903.13h8.09v3.97h-8.09zM1973.19,903.13h8.09v3.97h-8.09zM1985.32,903.13h20.23v3.97h-20.23zM1867.99,907.05h8.09v3.97h-8.09zM1888.22,907.05h4.05v3.97h-4.05zM1896.31,907.05h4.05v3.97h-4.05zM1908.45,907.05h12.14v3.97h-12.14zM1924.64,907.05h4.05v3.97h-4.05zM1932.73,907.05h4.05v3.97h-4.05zM1944.86,907.05h4.05v3.97h-4.05zM1952.96,907.05h4.05v3.97h-4.05zM1961.05,907.05h8.09v3.97h-8.09zM1973.19,907.05h4.05v3.97h-4.05zM1993.42,907.05h4.05v3.97h-4.05zM2005.55,907.05h4.05v3.97h-4.05zM1872.04,910.96h16.18v3.97h-16.18zM1892.27,910.96h4.05v3.97h-4.05zM1916.54,910.96h8.09v3.97h-8.09zM1928.68,910.96h4.05v3.97h-4.05zM1936.77,910.96h4.05v3.97h-4.05zM1948.91,910.96h4.05v3.97h-4.05zM1973.19,910.96h12.14v3.97h-12.14zM2001.51,910.96h8.09v3.97h-8.09zM1872.04,914.88h4.05v3.97h-4.05zM1892.27,914.88h4.05v3.97h-4.05zM1904.41,914.88h4.05v3.97h-4.05zM1916.54,914.88h4.05v3.97h-4.05zM1928.68,914.88h4.05v3.97h-4.05zM1936.77,914.88h4.05v3.97h-4.05zM1944.86,914.88h4.05v3.97h-4.05zM1957.00,914.88h4.05v3.97h-4.05zM1965.09,914.88h12.14v3.97h-12.14zM1985.32,914.88h12.14v3.97h-12.14zM2001.51,914.88h4.05v3.97h-4.05zM1863.95,918.79h4.05v3.97h-4.05zM1872.04,918.79h4.05v3.97h-4.05zM1884.18,918.79h4.05v3.97h-4.05zM1892.27,918.79h8.09v3.97h-8.09zM1912.50,918.79h4.05v3.97h-4.05zM1920.59,918.79h4.05v3.97h-4.05zM1928.68,918.79h4.05v3.97h-4.05zM1936.77,918.79h24.28v3.97h-24.28zM1981.28,918.79h8.09v3.97h-8.09zM1993.42,918.79h4.05v3.97h-4.05zM2005.55,918.79h4.05v3.97h-4.05zM1872.04,922.71h4.05v3.97h-4.05zM1888.22,922.71h4.05v3.97h-4.05zM1896.31,922.71h4.05v3.97h-4.05zM1904.41,922.71h16.18v3.97h-16.18zM1924.64,922.71h8.09v3.97h-8.09zM1936.77,922.71h8.09v3.97h-8.09zM1952.96,922.71h4.05v3.97h-4.05zM1965.09,922.71h24.28v3.97h-24.28zM1997.46,922.71h4.05v3.97h-4.05zM2005.55,922.71h4.05v3.97h-4.05zM1867.99,926.63h8.09v3.97h-8.09zM1884.18,926.63h8.09v3.97h-8.09zM1896.31,926.63h4.05v3.97h-4.05zM1904.41,926.63h8.09v3.97h-8.09zM1920.59,926.63h8.09v3.97h-8.09zM1936.77,926.63h4.05v3.97h-4.05zM1944.86,926.63h20.23v3.97h-20.23zM1969.14,926.63h8.09v3.97h-8.09zM1985.32,926.63h4.05v3.97h-4.05zM1993.42,926.63h16.18v3.97h-16.18zM1863.95,930.54h12.14v3.97h-12.14zM1880.13,930.54h4.05v3.97h-4.05zM1888.22,930.54h8.09v3.97h-8.09zM1993.42,930.54h4.05v3.97h-4.05zM2001.51,930.54h8.09v3.97h-8.09zM1859.90,934.46h8.09v3.97h-8.09zM1876.08,934.46h4.05v3.97h-4.05zM1884.18,934.46h4.05v3.97h-4.05zM1892.27,934.46h4.05v3.97h-4.05zM1981.28,934.46h8.09v3.97h-8.09zM2005.55,934.46h4.05v3.97h-4.05zM1872.04,938.38h4.05v3.97h-4.05zM1888.22,938.38h8.09v3.97h-8.09zM1981.28,938.38h8.09v3.97h-8.09zM1993.42,938.38h8.09v3.97h-8.09zM2005.55,938.38h4.05v3.97h-4.05zM1872.04,942.29h4.05v3.97h-4.05zM1880.13,942.29h8.09v3.97h-8.09zM1892.27,942.29h4.05v3.97h-4.05zM1981.28,942.29h4.05v3.97h-4.05zM1989.37,942.29h8.09v3.97h-8.09zM2005.55,942.29h4.05v3.97h-4.05zM1872.04,946.21h12.14v3.97h-12.14zM1977.23,946.21h4.05v3.97h-4.05zM1985.32,946.21h12.14v3.97h-12.14zM2001.51,946.21h4.05v3.97h-4.05zM1867.99,950.12h4.05v3.97h-4.05zM1876.08,950.12h16.18v3.97h-16.18zM1981.28,950.12h4.05v3.97h-4.05zM1993.42,950.12h4.05v3.97h-4.05zM2005.55,950.12h4.05v3.97h-4.05zM1859.90,954.04h4.05v3.97h-4.05zM1876.08,954.04h4.05v3.97h-4.05zM1888.22,954.04h4.05v3.97h-4.05zM1981.28,954.04h8.09v3.97h-8.09zM1993.42,954.04h8.09v3.97h-8.09zM2005.55,954.04h4.05v3.97h-4.05zM1859.90,957.96h8.09v3.97h-8.09zM1872.04,957.96h4.05v3.97h-4.05zM1884.18,957.96h24.28v3.97h-24.28zM1916.54,957.96h20.23v3.97h-20.23zM1940.82,957.96h4.05v3.97h-4.05zM1952.96,957.96h4.05v3.97h-4.05zM1969.14,957.96h8.09v3.97h-8.09zM1985.32,957.96h8.09v3.97h-8.09zM2005.55,957.96h4.05v3.97h-4.05zM1863.95,961.87h8.09v3.97h-8.09zM1876.08,961.87h8.09v3.97h-8.09zM1888.22,961.87h4.05v3.97h-4.05zM1896.31,961.87h4.05v3.97h-4.05zM1920.59,961.87h16.18v3.97h-16.18zM1940.82,961.87h4.05v3.97h-4.05zM1948.91,961.87h4.05v3.97h-4.05zM1961.05,961.87h4.05v3.97h-4.05zM1969.14,961.87h4.05v3.97h-4.05zM1981.28,961.87h8.09v3.97h-8.09zM1993.42,961.87h4.05v3.97h-4.05zM2001.51,961.87h4.05v3.97h-4.05zM1859.90,965.79h8.09v3.97h-8.09zM1880.13,965.79h8.09v3.97h-8.09zM1900.36,965.79h12.14v3.97h-12.14zM1916.54,965.79h16.18v3.97h-16.18zM1940.82,965.79h4.05v3.97h-4.05zM1957.00,965.79h8.09v3.97h-8.09zM1985.32,965.79h4.05v3.97h-4.05zM1993.42,965.79h4.05v3.97h-4.05zM2001.51,965.79h8.09v3.97h-8.09zM1872.04,969.71h12.14v3.97h-12.14zM1892.27,969.71h32.37v3.97h-32.37zM1936.77,969.71h4.05v3.97h-4.05zM1944.86,969.71h4.05v3.97h-4.05zM1957.00,969.71h4.05v3.97h-4.05zM1993.42,969.71h4.05v3.97h-4.05zM2001.51,969.71h8.09v3.97h-8.09zM1859.90,973.62h8.09v3.97h-8.09zM1880.13,973.62h8.09v3.97h-8.09zM1892.27,973.62h16.18v3.97h-16.18zM1912.50,973.62h4.05v3.97h-4.05zM1924.64,973.62h12.14v3.97h-12.14zM1940.82,973.62h8.09v3.97h-8.09zM1957.00,973.62h4.05v3.97h-4.05zM1969.14,973.62h4.05v3.97h-4.05zM1977.23,973.62h16.18v3.97h-16.18zM1997.46,973.62h4.05v3.97h-4.05zM2005.55,973.62h4.05v3.97h-4.05zM1872.04,977.54h8.09v3.97h-8.09zM1888.22,977.54h4.05v3.97h-4.05zM1900.36,977.54h8.09v3.97h-8.09zM1916.54,977.54h8.09v3.97h-8.09zM1936.77,977.54h8.09v3.97h-8.09zM1952.96,977.54h8.09v3.97h-8.09zM1965.09,977.54h4.05v3.97h-4.05zM1977.23,977.54h12.14v3.97h-12.14zM2005.55,977.54h4.05v3.97h-4.05zM1859.90,981.45h16.18v3.97h-16.18zM1880.13,981.45h12.14v3.97h-12.14zM1904.41,981.45h44.51v3.97h-44.51zM1957.00,981.45h4.05v3.97h-4.05zM1969.14,981.45h24.28v3.97h-24.28zM2001.51,981.45h8.09v3.97h-8.09zM1892.27,985.37h4.05v3.97h-4.05zM1900.36,985.37h12.14v3.97h-12.14zM1916.54,985.37h20.23v3.97h-20.23zM1952.96,985.37h16.18v3.97h-16.18zM1973.19,985.37h4.05v3.97h-4.05zM1989.37,985.37h8.09v3.97h-8.09zM2001.51,985.37h8.09v3.97h-8.09zM1859.90,989.29h28.32v3.97h-28.32zM1892.27,989.29h4.05v3.97h-4.05zM1908.45,989.29h24.28v3.97h-24.28zM1936.77,989.29h4.05v3.97h-4.05zM1944.86,989.29h16.18v3.97h-16.18zM1973.19,989.29h4.05v3.97h-4.05zM1981.28,989.29h4.05v3.97h-4.05zM1989.37,989.29h12.14v3.97h-12.14zM2005.55,989.29h4.05v3.97h-4.05zM1859.90,993.20h4.05v3.97h-4.05zM1884.18,993.20h4.05v3.97h-4.05zM1892.27,993.20h12.14v3.97h-12.14zM1908.45,993.20h4.05v3.97h-4.05zM1924.64,993.20h4.05v3.97h-4.05zM1944.86,993.20h8.09v3.97h-8.09zM1957.00,993.20h4.05v3.97h-4.05zM1969.14,993.20h8.09v3.97h-8.09zM1989.37,993.20h8.09v3.97h-8.09zM2001.51,993.20h8.09v3.97h-8.09zM1859.90,997.12h4.05v3.97h-4.05zM1884.18,997.12h4.05v3.97h-4.05zM1896.31,997.12h4.05v3.97h-4.05zM1904.41,997.12h12.14v3.97h-12.14zM1928.68,997.12h4.05v3.97h-4.05zM1940.82,997.12h4.05v3.97h-4.05zM1948.91,997.12h8.09v3.97h-8.09zM1969.14,997.12h24.28v3.97h-24.28zM2005.55,997.12h4.05v3.97h-4.05zM1859.90,1001.04h4.05v3.97h-4.05zM1884.18,1001.04h4.05v3.97h-4.05zM1900.36,1001.04h4.05v3.97h-4.05zM1924.64,1001.04h4.05v3.97h-4.05zM1940.82,1001.04h8.09v3.97h-8.09zM1965.09,1001.04h4.05v3.97h-4.05zM1973.19,1001.04h4.05v3.97h-4.05zM1985.32,1001.04h8.09v3.97h-8.09zM1997.46,1001.04h4.05v3.97h-4.05zM2005.55,1001.04h4.05v3.97h-4.05zM1859.90,1004.95h4.05v3.97h-4.05zM1884.18,1004.95h4.05v3.97h-4.05zM1892.27,1004.95h8.09v3.97h-8.09zM1912.50,1004.95h4.05v3.97h-4.05zM1928.68,1004.95h16.18v3.97h-16.18zM1952.96,1004.95h4.05v3.97h-4.05zM1965.09,1004.95h4.05v3.97h-4.05zM1989.37,1004.95h4.05v3.97h-4.05zM1997.46,1004.95h12.14v3.97h-12.14zM1859.90,1008.87h4.05v3.97h-4.05zM1884.18,1008.87h4.05v3.97h-4.05zM1896.31,1008.87h12.14v3.97h-12.14zM1940.82,1008.87h12.14v3.97h-12.14zM1965.09,1008.87h4.05v3.97h-4.05zM1973.19,1008.87h4.05v3.97h-4.05zM1981.28,1008.87h4.05v3.97h-4.05zM1989.37,1008.87h8.09v3.97h-8.09zM1859.90,1012.78h28.32v3.97h-28.32zM1896.31,1012.78h20.23v3.97h-20.23zM1920.59,1012.78h4.05v3.97h-4.05zM1932.73,1012.78h12.14v3.97h-12.14zM1952.96,1012.78h4.05v3.97h-4.05zM1973.19,1012.78h4.05v3.97h-4.05zM1981.28,1012.78h16.18v3.97h-16.18zM2005.55,1012.78h4.05v3.97h-4.05z" fill="#444"/>
<rect x="1867.69" y="879.33" width="12.74" height="12.35" rx="3.2" fill="#444"/>
<rect x="1989.07" y="879.33" width="12.74" height="12.35" rx="3.2" fill="#444"/>
<rect x="1867.69" y="996.82" width="12.74" height="12.35" rx="3.2" fill="#444"/>
<path d="M1897.0,931.3V957.6M1903.9,931.3V957.6M1897.6,956.6L1903.3,932.3M1908.0,931.3V957.6M1915.3,931.3V957.6M1908.4,931.8L1911.65,950.6L1914.9,931.8M1939.5,931.3V957.6M1941,932.8H1934.2M1935.3,932.8L1934.4,951.6Q1934,956.2 1931.2,956.2M1943.3,957.6L1946.6,931.3H1948.4L1951.7,957.6M1944.6,950.1H1950.4M1955.9,931.3V957.6M1962.9,931.3V957.6M1956.5,956.6L1962.3,932.3M1970.7,931.3V957.6M1965.6,932.8H1975.9" fill="none" stroke="#454545" stroke-width="3" stroke-linejoin="miter"/>
<path d="M1957.2,927.7Q1959.4,930.1 1961.6,927.7" fill="none" stroke="#454545" stroke-width="1.8"/>
<rect x="1919" y="931.3" width="10" height="26.3" fill="#454545"/>
<text x="0.0" y="0.0" font-size="7" text-anchor="start" fill="#fff" font-weight="bold" textLength="23.5" lengthAdjust="spacingAndGlyphs" transform="translate(1926.6,956.2) rotate(-90)">IMLIGHT</text>
<path d="M1640.0,39.5L1813.5,122.5L1813.5,289.5L1640.0,372.5L1466.5,289.5L1466.5,122.5ZM1466.5,122.5L1640.0,205.5L1813.5,122.5M1640.0,205.5L1640.0,372.5M1453.5,306.5L1627.0,389.5L1627.0,556.5L1453.5,639.5L1280.0,556.5L1280.0,389.5ZM1280.0,389.5L1453.5,472.5L1627.0,389.5M1453.5,472.5L1453.5,639.5M1826.0,306.5L1999.5,389.5L1999.5,556.5L1826.0,639.5L1652.5,556.5L1652.5,389.5ZM1652.5,389.5L1826.0,472.5L1999.5,389.5M1826.0,472.5L1826.0,639.5M1252.0,576.0L1425.5,659.0L1425.5,826.0L1252.0,909.0L1078.5,826.0L1078.5,659.0ZM1078.5,659.0L1252.0,742.0L1425.5,659.0M1252.0,742.0L1252.0,909.0M1631.5,576.0L1805.0,659.0L1805.0,826.0L1631.5,909.0L1458.0,826.0L1458.0,659.0ZM1458.0,659.0L1631.5,742.0L1805.0,659.0M1631.5,742.0L1631.5,909.0" fill="none" stroke="#c0c0c0" stroke-opacity="0.42" stroke-width="4" stroke-linejoin="round"/>
<rect x="0" y="0" width="2047" height="1.3" fill="#000"/>
<rect x="0" y="0" width="1.3" height="1055" fill="#000"/>
</svg></body></html>
